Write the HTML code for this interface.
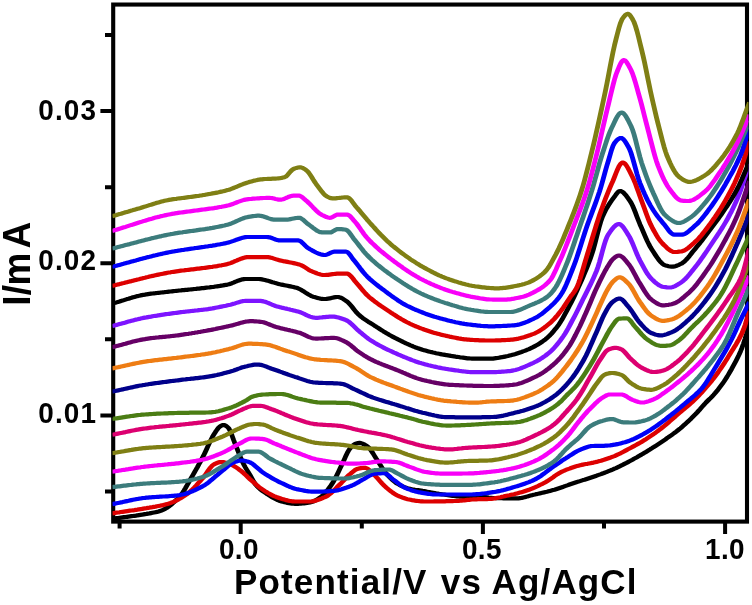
<!DOCTYPE html>
<html><head><meta charset="utf-8"><title>CV plot</title>
<style>html,body{margin:0;padding:0;background:#fff;}svg{display:block}</style></head>
<body>
<svg width="752" height="605" viewBox="0 0 752 605">
<rect width="752" height="605" fill="#fff"/>
<defs><clipPath id="cp"><rect x="112.5" y="4.55" width="636" height="517.0500000000001"/></clipPath></defs>
<rect x="113.2" y="4.55" width="633.8" height="517.0500000000001" fill="none" stroke="#000" stroke-width="4.1"/>
<g clip-path="url(#cp)"><g transform="scale(1.15 1)" fill="none" stroke-width="4.2" stroke-linejoin="round" stroke-linecap="butt">
<path d="M97.39 518.8 L98.70 518.6 L100.00 518.4 L101.30 518.2 L102.61 518.0 L103.91 517.8 L105.22 517.6 L106.52 517.4 L107.83 517.2 L109.13 517.0 L110.43 516.8 L111.74 516.6 L113.04 516.4 L114.35 516.2 L115.65 516.0 L116.96 515.8 L118.26 515.6 L119.57 515.3 L120.87 515.1 L122.17 514.9 L123.48 514.7 L124.78 514.4 L126.09 514.1 L127.39 513.9 L128.70 513.6 L130.00 513.4 L131.30 513.1 L132.61 512.8 L133.91 512.5 L135.22 512.2 L136.52 511.9 L137.83 511.5 L139.13 511.0 L140.43 510.5 L141.74 509.9 L143.04 509.2 L144.35 508.3 L145.65 507.4 L146.96 506.3 L148.26 505.2 L149.57 503.9 L150.87 502.6 L152.17 501.2 L153.48 499.8 L154.78 498.3 L156.09 496.7 L157.39 494.9 L158.70 492.8 L160.00 490.5 L161.30 488.0 L162.61 485.3 L163.91 482.7 L165.22 480.0 L166.52 477.5 L167.83 474.9 L169.13 472.3 L170.43 469.6 L171.74 467.0 L173.04 464.2 L174.35 461.5 L175.65 458.6 L176.96 455.7 L178.26 452.6 L179.57 449.4 L180.87 446.1 L182.17 442.8 L183.48 439.7 L184.78 436.8 L186.09 434.3 L187.39 431.9 L188.70 429.7 L190.00 427.8 L191.30 426.5 L192.61 425.6 L193.91 425.0 L195.22 425.2 L196.52 425.9 L197.83 427.0 L199.13 428.6 L200.43 431.6 L201.74 435.5 L203.04 439.7 L204.35 443.6 L205.65 447.3 L206.96 451.1 L208.26 454.9 L209.57 458.6 L210.87 462.0 L212.17 464.9 L213.48 467.6 L214.78 470.1 L216.09 472.5 L217.39 475.0 L218.70 477.7 L220.00 480.4 L221.30 483.0 L222.61 485.0 L223.91 486.6 L225.22 488.1 L226.52 489.4 L227.83 490.6 L229.13 491.7 L230.43 492.7 L231.74 493.7 L233.04 494.6 L234.35 495.6 L235.65 496.5 L236.96 497.4 L238.26 498.2 L239.57 499.0 L240.87 499.8 L242.17 500.4 L243.48 501.0 L244.78 501.4 L246.09 501.8 L247.39 502.2 L248.70 502.5 L250.00 502.9 L251.30 503.2 L252.61 503.4 L253.91 503.6 L255.22 503.7 L256.52 503.8 L257.83 503.8 L259.13 503.8 L260.43 503.7 L261.74 503.6 L263.04 503.5 L264.35 503.3 L265.65 503.1 L266.96 502.9 L268.26 502.7 L269.57 502.5 L270.87 502.1 L272.17 501.6 L273.48 500.9 L274.78 500.1 L276.09 499.2 L277.39 498.2 L278.70 497.2 L280.00 496.0 L281.30 494.7 L282.61 493.2 L283.91 491.4 L285.22 489.5 L286.52 487.5 L287.83 485.4 L289.13 483.1 L290.43 480.7 L291.74 477.9 L293.04 474.9 L294.35 471.7 L295.65 468.5 L296.96 465.4 L298.26 462.3 L299.57 459.0 L300.87 455.6 L302.17 452.5 L303.48 449.9 L304.78 447.9 L306.09 446.3 L307.39 444.9 L308.70 444.0 L310.00 443.5 L311.30 443.1 L312.61 442.9 L313.91 443.1 L315.22 443.6 L316.52 444.3 L317.83 445.2 L319.13 446.2 L320.43 447.3 L321.74 449.0 L323.04 451.1 L324.35 453.4 L325.65 455.9 L326.96 458.3 L328.26 460.5 L329.57 462.9 L330.87 465.3 L332.17 467.7 L333.48 470.0 L334.78 472.1 L336.09 473.9 L337.39 475.6 L338.70 477.1 L340.00 478.6 L341.30 480.0 L342.61 481.3 L343.91 482.5 L345.22 483.5 L346.52 484.3 L347.83 485.1 L349.13 485.9 L350.43 486.5 L351.74 487.2 L353.04 487.7 L354.35 488.2 L355.65 488.6 L356.96 488.9 L358.26 489.3 L359.57 489.5 L360.87 489.8 L362.17 490.0 L363.48 490.2 L364.78 490.4 L366.09 490.6 L367.39 490.9 L368.70 491.1 L370.00 491.4 L371.30 491.7 L372.61 492.0 L373.91 492.2 L375.22 492.5 L376.52 492.8 L377.83 493.1 L379.13 493.4 L380.43 493.6 L381.74 493.9 L383.04 494.1 L384.35 494.3 L385.65 494.5 L386.96 494.7 L388.26 495.0 L389.57 495.2 L390.87 495.4 L392.17 495.6 L393.48 495.8 L394.78 496.0 L396.09 496.2 L397.39 496.4 L398.70 496.5 L400.00 496.6 L401.30 496.7 L402.61 496.8 L403.91 496.8 L405.22 496.8 L406.52 496.8 L407.83 496.8 L409.13 496.7 L410.43 496.7 L411.74 496.7 L413.04 496.7 L414.35 496.6 L415.65 496.6 L416.96 496.6 L418.26 496.6 L419.57 496.7 L420.87 496.9 L422.17 497.1 L423.48 497.3 L424.78 497.6 L426.09 497.8 L427.39 497.9 L428.70 498.0 L430.00 498.0 L431.30 498.1 L432.61 498.1 L433.91 498.2 L435.22 498.2 L436.52 498.2 L437.83 498.3 L439.13 498.3 L440.43 498.3 L441.74 498.3 L443.04 498.4 L444.35 498.4 L445.65 498.4 L446.96 498.4 L448.26 498.4 L449.57 498.4 L450.87 498.3 L452.17 498.1 L453.48 497.9 L454.78 497.6 L456.09 497.2 L457.39 496.9 L458.70 496.4 L460.00 496.0 L461.30 495.6 L462.61 495.2 L463.91 494.8 L465.22 494.5 L466.52 494.1 L467.83 493.8 L469.13 493.4 L470.43 493.1 L471.74 492.7 L473.04 492.4 L474.35 492.0 L475.65 491.7 L476.96 491.3 L478.26 490.9 L479.57 490.5 L480.87 490.1 L482.17 489.7 L483.48 489.2 L484.78 488.7 L486.09 488.2 L487.39 487.7 L488.70 487.2 L490.00 486.7 L491.30 486.1 L492.61 485.6 L493.91 485.1 L495.22 484.5 L496.52 484.0 L497.83 483.5 L499.13 483.0 L500.43 482.5 L501.74 482.0 L503.04 481.6 L504.35 481.1 L505.65 480.6 L506.96 480.1 L508.26 479.7 L509.57 479.2 L510.87 478.7 L512.17 478.2 L513.48 477.7 L514.78 477.2 L516.09 476.7 L517.39 476.2 L518.70 475.7 L520.00 475.1 L521.30 474.6 L522.61 474.1 L523.91 473.5 L525.22 473.0 L526.52 472.4 L527.83 471.8 L529.13 471.2 L530.43 470.6 L531.74 470.0 L533.04 469.4 L534.35 468.7 L535.65 468.1 L536.96 467.4 L538.26 466.7 L539.57 465.9 L540.87 465.2 L542.17 464.4 L543.48 463.6 L544.78 462.9 L546.09 462.1 L547.39 461.3 L548.70 460.5 L550.00 459.7 L551.30 458.8 L552.61 458.0 L553.91 457.2 L555.22 456.3 L556.52 455.4 L557.83 454.6 L559.13 453.7 L560.43 452.8 L561.74 451.9 L563.04 451.0 L564.35 450.1 L565.65 449.1 L566.96 448.2 L568.26 447.2 L569.57 446.3 L570.87 445.3 L572.17 444.3 L573.48 443.3 L574.78 442.3 L576.09 441.3 L577.39 440.3 L578.70 439.3 L580.00 438.2 L581.30 437.2 L582.61 436.1 L583.91 435.1 L585.22 434.0 L586.52 432.9 L587.83 431.8 L589.13 430.6 L590.43 429.4 L591.74 428.2 L593.04 426.9 L594.35 425.6 L595.65 424.3 L596.96 422.9 L598.26 421.5 L599.57 420.1 L600.87 418.7 L602.17 417.2 L603.48 415.7 L604.78 414.2 L606.09 412.6 L607.39 410.9 L608.70 409.3 L610.00 407.5 L611.30 405.8 L612.61 404.2 L613.91 402.5 L615.22 401.0 L616.52 399.5 L617.83 398.1 L619.13 396.6 L620.43 395.0 L621.74 393.3 L623.04 391.5 L624.35 389.7 L625.65 387.7 L626.96 385.7 L628.26 383.7 L629.57 381.5 L630.87 379.2 L632.17 376.9 L633.48 374.4 L634.78 371.8 L636.09 369.2 L637.39 366.4 L638.70 363.6 L640.00 360.8 L641.30 357.9 L642.61 354.8 L643.91 351.4 L645.22 347.7 L646.52 343.6 L647.83 339.0 L649.13 334.0 L650.43 328.0 L651.74 322.0" stroke="#000000"/>
<path d="M97.39 513.4 L98.70 513.2 L100.00 512.9 L101.30 512.7 L102.61 512.5 L103.91 512.3 L105.22 512.0 L106.52 511.8 L107.83 511.6 L109.13 511.4 L110.43 511.2 L111.74 510.9 L113.04 510.7 L114.35 510.5 L115.65 510.3 L116.96 510.1 L118.26 509.8 L119.57 509.6 L120.87 509.3 L122.17 509.1 L123.48 508.9 L124.78 508.6 L126.09 508.3 L127.39 508.1 L128.70 507.8 L130.00 507.6 L131.30 507.3 L132.61 507.1 L133.91 506.8 L135.22 506.6 L136.52 506.3 L137.83 506.0 L139.13 505.7 L140.43 505.4 L141.74 505.1 L143.04 504.7 L144.35 504.3 L145.65 503.9 L146.96 503.5 L148.26 503.0 L149.57 502.4 L150.87 501.8 L152.17 501.1 L153.48 500.4 L154.78 499.6 L156.09 498.8 L157.39 497.9 L158.70 497.0 L160.00 496.1 L161.30 495.1 L162.61 494.1 L163.91 492.9 L165.22 491.7 L166.52 490.3 L167.83 488.8 L169.13 487.3 L170.43 485.7 L171.74 484.0 L173.04 482.3 L174.35 480.6 L175.65 479.0 L176.96 477.2 L178.26 475.3 L179.57 473.1 L180.87 470.9 L182.17 468.8 L183.48 467.0 L184.78 465.4 L186.09 464.4 L187.39 463.6 L188.70 463.0 L190.00 462.4 L191.30 462.1 L192.61 462.0 L193.91 462.1 L195.22 462.4 L196.52 462.8 L197.83 463.2 L199.13 463.6 L200.43 464.2 L201.74 464.9 L203.04 465.8 L204.35 466.7 L205.65 467.7 L206.96 468.7 L208.26 469.8 L209.57 470.9 L210.87 472.1 L212.17 473.5 L213.48 474.9 L214.78 476.3 L216.09 477.8 L217.39 479.2 L218.70 480.5 L220.00 481.8 L221.30 483.1 L222.61 484.4 L223.91 485.7 L225.22 487.0 L226.52 488.2 L227.83 489.2 L229.13 490.2 L230.43 491.2 L231.74 492.1 L233.04 493.0 L234.35 493.8 L235.65 494.6 L236.96 495.4 L238.26 496.1 L239.57 496.7 L240.87 497.3 L242.17 497.8 L243.48 498.3 L244.78 498.8 L246.09 499.2 L247.39 499.6 L248.70 500.1 L250.00 500.4 L251.30 500.8 L252.61 501.0 L253.91 501.3 L255.22 501.4 L256.52 501.5 L257.83 501.5 L259.13 501.5 L260.43 501.5 L261.74 501.5 L263.04 501.5 L264.35 501.5 L265.65 501.5 L266.96 501.5 L268.26 501.5 L269.57 501.5 L270.87 501.4 L272.17 501.2 L273.48 500.9 L274.78 500.5 L276.09 500.0 L277.39 499.5 L278.70 499.0 L280.00 498.4 L281.30 497.7 L282.61 497.1 L283.91 496.4 L285.22 495.5 L286.52 494.3 L287.83 493.1 L289.13 491.7 L290.43 490.3 L291.74 488.8 L293.04 487.2 L294.35 485.7 L295.65 484.3 L296.96 482.8 L298.26 481.2 L299.57 479.6 L300.87 478.0 L302.17 476.5 L303.48 475.0 L304.78 473.8 L306.09 472.5 L307.39 471.3 L308.70 470.1 L310.00 469.2 L311.30 468.7 L312.61 468.4 L313.91 468.2 L315.22 468.0 L316.52 467.9 L317.83 467.9 L319.13 468.4 L320.43 469.4 L321.74 470.8 L323.04 472.3 L324.35 473.8 L325.65 475.2 L326.96 476.7 L328.26 478.3 L329.57 480.0 L330.87 481.7 L332.17 483.4 L333.48 485.0 L334.78 486.4 L336.09 487.8 L337.39 489.0 L338.70 490.2 L340.00 491.4 L341.30 492.5 L342.61 493.5 L343.91 494.4 L345.22 495.3 L346.52 496.0 L347.83 496.6 L349.13 497.2 L350.43 497.8 L351.74 498.3 L353.04 498.8 L354.35 499.2 L355.65 499.5 L356.96 499.8 L358.26 500.1 L359.57 500.3 L360.87 500.6 L362.17 500.8 L363.48 501.0 L364.78 501.2 L366.09 501.3 L367.39 501.4 L368.70 501.5 L370.00 501.5 L371.30 501.5 L372.61 501.5 L373.91 501.5 L375.22 501.5 L376.52 501.5 L377.83 501.4 L379.13 501.4 L380.43 501.4 L381.74 501.4 L383.04 501.4 L384.35 501.3 L385.65 501.3 L386.96 501.3 L388.26 501.2 L389.57 501.2 L390.87 501.2 L392.17 501.1 L393.48 501.1 L394.78 501.0 L396.09 501.0 L397.39 500.9 L398.70 500.9 L400.00 500.7 L401.30 500.6 L402.61 500.4 L403.91 500.3 L405.22 500.1 L406.52 499.9 L407.83 499.8 L409.13 499.6 L410.43 499.5 L411.74 499.4 L413.04 499.3 L414.35 499.3 L415.65 499.2 L416.96 499.2 L418.26 499.2 L419.57 499.1 L420.87 499.1 L422.17 499.1 L423.48 499.1 L424.78 499.0 L426.09 498.9 L427.39 498.8 L428.70 498.6 L430.00 498.4 L431.30 498.1 L432.61 497.8 L433.91 497.5 L435.22 497.2 L436.52 496.8 L437.83 496.5 L439.13 496.1 L440.43 495.8 L441.74 495.5 L443.04 495.2 L444.35 494.8 L445.65 494.5 L446.96 494.2 L448.26 493.8 L449.57 493.4 L450.87 493.0 L452.17 492.6 L453.48 492.2 L454.78 491.8 L456.09 491.3 L457.39 490.8 L458.70 490.3 L460.00 489.8 L461.30 489.2 L462.61 488.6 L463.91 488.0 L465.22 487.3 L466.52 486.7 L467.83 486.0 L469.13 485.2 L470.43 484.5 L471.74 483.8 L473.04 483.0 L474.35 482.2 L475.65 481.3 L476.96 480.3 L478.26 479.3 L479.57 478.3 L480.87 477.3 L482.17 476.2 L483.48 475.2 L484.78 474.2 L486.09 473.3 L487.39 472.4 L488.70 471.7 L490.00 471.0 L491.30 470.3 L492.61 469.7 L493.91 469.1 L495.22 468.6 L496.52 468.0 L497.83 467.5 L499.13 467.0 L500.43 466.5 L501.74 466.1 L503.04 465.7 L504.35 465.3 L505.65 464.9 L506.96 464.6 L508.26 464.3 L509.57 464.0 L510.87 463.8 L512.17 463.5 L513.48 463.2 L514.78 462.9 L516.09 462.6 L517.39 462.2 L518.70 461.9 L520.00 461.5 L521.30 461.1 L522.61 460.7 L523.91 460.2 L525.22 459.8 L526.52 459.3 L527.83 458.8 L529.13 458.3 L530.43 457.8 L531.74 457.2 L533.04 456.6 L534.35 456.1 L535.65 455.4 L536.96 454.7 L538.26 454.0 L539.57 453.3 L540.87 452.5 L542.17 451.7 L543.48 450.9 L544.78 450.1 L546.09 449.3 L547.39 448.5 L548.70 447.7 L550.00 446.9 L551.30 446.1 L552.61 445.3 L553.91 444.4 L555.22 443.6 L556.52 442.8 L557.83 441.9 L559.13 441.0 L560.43 440.1 L561.74 439.2 L563.04 438.2 L564.35 437.2 L565.65 436.2 L566.96 435.2 L568.26 434.1 L569.57 433.1 L570.87 432.0 L572.17 430.9 L573.48 429.7 L574.78 428.6 L576.09 427.4 L577.39 426.2 L578.70 425.0 L580.00 423.7 L581.30 422.4 L582.61 421.1 L583.91 419.8 L585.22 418.5 L586.52 417.2 L587.83 415.8 L589.13 414.5 L590.43 413.2 L591.74 412.0 L593.04 410.7 L594.35 409.5 L595.65 408.2 L596.96 407.0 L598.26 405.7 L599.57 404.4 L600.87 403.1 L602.17 401.7 L603.48 400.3 L604.78 398.9 L606.09 397.3 L607.39 395.8 L608.70 394.2 L610.00 392.6 L611.30 390.9 L612.61 389.2 L613.91 387.5 L615.22 385.8 L616.52 384.0 L617.83 382.2 L619.13 380.4 L620.43 378.5 L621.74 376.5 L623.04 374.5 L624.35 372.5 L625.65 370.3 L626.96 368.1 L628.26 365.9 L629.57 363.6 L630.87 361.3 L632.17 358.9 L633.48 356.4 L634.78 354.0 L636.09 351.6 L637.39 349.2 L638.70 346.8 L640.00 344.4 L641.30 341.8 L642.61 339.1 L643.91 336.2 L645.22 333.1 L646.52 329.6 L647.83 325.3 L649.13 320.4 L650.43 315.6 L651.74 310.9" stroke="#dd0000"/>
<path d="M97.39 504.2 L98.70 503.9 L100.00 503.6 L101.30 503.3 L102.61 503.0 L103.91 502.7 L105.22 502.4 L106.52 502.1 L107.83 501.7 L109.13 501.4 L110.43 501.1 L111.74 500.8 L113.04 500.4 L114.35 500.1 L115.65 499.8 L116.96 499.5 L118.26 499.2 L119.57 499.0 L120.87 498.7 L122.17 498.5 L123.48 498.2 L124.78 498.0 L126.09 497.9 L127.39 497.7 L128.70 497.6 L130.00 497.4 L131.30 497.3 L132.61 497.2 L133.91 497.1 L135.22 497.0 L136.52 496.9 L137.83 496.8 L139.13 496.7 L140.43 496.6 L141.74 496.5 L143.04 496.5 L144.35 496.4 L145.65 496.3 L146.96 496.2 L148.26 496.0 L149.57 495.9 L150.87 495.8 L152.17 495.6 L153.48 495.5 L154.78 495.3 L156.09 495.1 L157.39 494.8 L158.70 494.5 L160.00 494.2 L161.30 493.8 L162.61 493.3 L163.91 492.8 L165.22 492.2 L166.52 491.6 L167.83 491.0 L169.13 490.3 L170.43 489.6 L171.74 488.9 L173.04 488.2 L174.35 487.4 L175.65 486.6 L176.96 485.8 L178.26 484.9 L179.57 483.9 L180.87 482.8 L182.17 481.6 L183.48 480.3 L184.78 479.1 L186.09 477.8 L187.39 476.4 L188.70 475.2 L190.00 473.9 L191.30 472.7 L192.61 471.5 L193.91 470.3 L195.22 469.1 L196.52 467.8 L197.83 466.5 L199.13 465.3 L200.43 464.1 L201.74 463.2 L203.04 462.4 L204.35 461.8 L205.65 461.4 L206.96 461.0 L208.26 460.7 L209.57 460.5 L210.87 460.5 L212.17 460.7 L213.48 461.0 L214.78 461.4 L216.09 461.8 L217.39 462.4 L218.70 463.2 L220.00 464.2 L221.30 465.4 L222.61 466.7 L223.91 468.0 L225.22 469.3 L226.52 470.6 L227.83 471.8 L229.13 472.8 L230.43 473.8 L231.74 474.8 L233.04 475.7 L234.35 476.6 L235.65 477.5 L236.96 478.4 L238.26 479.2 L239.57 480.0 L240.87 480.8 L242.17 481.6 L243.48 482.3 L244.78 483.0 L246.09 483.7 L247.39 484.4 L248.70 485.1 L250.00 485.8 L251.30 486.5 L252.61 487.1 L253.91 487.7 L255.22 488.2 L256.52 488.7 L257.83 489.1 L259.13 489.4 L260.43 489.7 L261.74 490.0 L263.04 490.3 L264.35 490.6 L265.65 490.9 L266.96 491.1 L268.26 491.3 L269.57 491.5 L270.87 491.6 L272.17 491.7 L273.48 491.7 L274.78 491.7 L276.09 491.7 L277.39 491.6 L278.70 491.6 L280.00 491.6 L281.30 491.5 L282.61 491.4 L283.91 491.4 L285.22 491.3 L286.52 491.2 L287.83 491.1 L289.13 491.0 L290.43 490.9 L291.74 490.7 L293.04 490.4 L294.35 490.1 L295.65 489.7 L296.96 489.3 L298.26 488.8 L299.57 488.3 L300.87 487.8 L302.17 487.2 L303.48 486.7 L304.78 486.1 L306.09 485.5 L307.39 484.8 L308.70 484.1 L310.00 483.2 L311.30 482.4 L312.61 481.5 L313.91 480.6 L315.22 479.8 L316.52 479.0 L317.83 478.1 L319.13 477.1 L320.43 476.2 L321.74 475.3 L323.04 474.6 L324.35 474.0 L325.65 473.7 L326.96 473.6 L328.26 473.5 L329.57 473.4 L330.87 473.3 L332.17 473.2 L333.48 473.2 L334.78 473.3 L336.09 474.0 L337.39 475.1 L338.70 476.3 L340.00 477.7 L341.30 479.0 L342.61 480.1 L343.91 481.2 L345.22 482.3 L346.52 483.5 L347.83 484.6 L349.13 485.7 L350.43 486.7 L351.74 487.5 L353.04 488.1 L354.35 488.8 L355.65 489.4 L356.96 489.9 L358.26 490.5 L359.57 490.9 L360.87 491.4 L362.17 491.7 L363.48 492.1 L364.78 492.3 L366.09 492.6 L367.39 492.9 L368.70 493.2 L370.00 493.4 L371.30 493.6 L372.61 493.9 L373.91 494.0 L375.22 494.2 L376.52 494.3 L377.83 494.4 L379.13 494.5 L380.43 494.5 L381.74 494.5 L383.04 494.5 L384.35 494.5 L385.65 494.5 L386.96 494.5 L388.26 494.5 L389.57 494.5 L390.87 494.5 L392.17 494.5 L393.48 494.5 L394.78 494.5 L396.09 494.5 L397.39 494.5 L398.70 494.5 L400.00 494.5 L401.30 494.5 L402.61 494.5 L403.91 494.5 L405.22 494.5 L406.52 494.5 L407.83 494.5 L409.13 494.5 L410.43 494.5 L411.74 494.4 L413.04 494.3 L414.35 494.2 L415.65 494.1 L416.96 494.0 L418.26 493.8 L419.57 493.6 L420.87 493.5 L422.17 493.3 L423.48 493.1 L424.78 492.8 L426.09 492.6 L427.39 492.4 L428.70 492.2 L430.00 492.0 L431.30 491.7 L432.61 491.4 L433.91 491.1 L435.22 490.8 L436.52 490.4 L437.83 490.1 L439.13 489.7 L440.43 489.3 L441.74 488.8 L443.04 488.4 L444.35 488.0 L445.65 487.5 L446.96 487.1 L448.26 486.6 L449.57 486.2 L450.87 485.7 L452.17 485.3 L453.48 484.8 L454.78 484.3 L456.09 483.8 L457.39 483.2 L458.70 482.6 L460.00 482.1 L461.30 481.4 L462.61 480.8 L463.91 480.1 L465.22 479.4 L466.52 478.6 L467.83 477.7 L469.13 476.8 L470.43 475.8 L471.74 474.7 L473.04 473.6 L474.35 472.5 L475.65 471.3 L476.96 470.2 L478.26 469.1 L479.57 468.0 L480.87 466.9 L482.17 465.9 L483.48 464.8 L484.78 463.8 L486.09 462.8 L487.39 461.8 L488.70 460.7 L490.00 459.7 L491.30 458.8 L492.61 457.8 L493.91 456.9 L495.22 455.9 L496.52 454.9 L497.83 454.0 L499.13 453.0 L500.43 452.1 L501.74 451.3 L503.04 450.5 L504.35 449.8 L505.65 449.2 L506.96 448.6 L508.26 448.0 L509.57 447.5 L510.87 447.0 L512.17 446.6 L513.48 446.2 L514.78 446.0 L516.09 446.0 L517.39 445.9 L518.70 445.9 L520.00 445.9 L521.30 445.8 L522.61 445.8 L523.91 445.8 L525.22 445.8 L526.52 445.7 L527.83 445.6 L529.13 445.5 L530.43 445.4 L531.74 445.2 L533.04 444.9 L534.35 444.7 L535.65 444.4 L536.96 444.1 L538.26 443.8 L539.57 443.4 L540.87 443.0 L542.17 442.6 L543.48 442.2 L544.78 441.7 L546.09 441.2 L547.39 440.7 L548.70 440.1 L550.00 439.5 L551.30 438.9 L552.61 438.2 L553.91 437.4 L555.22 436.7 L556.52 435.9 L557.83 435.1 L559.13 434.3 L560.43 433.4 L561.74 432.6 L563.04 431.7 L564.35 430.8 L565.65 429.9 L566.96 428.9 L568.26 427.9 L569.57 426.9 L570.87 425.9 L572.17 424.8 L573.48 423.7 L574.78 422.7 L576.09 421.5 L577.39 420.4 L578.70 419.3 L580.00 418.1 L581.30 416.9 L582.61 415.7 L583.91 414.6 L585.22 413.4 L586.52 412.2 L587.83 411.0 L589.13 409.7 L590.43 408.5 L591.74 407.3 L593.04 406.0 L594.35 404.7 L595.65 403.5 L596.96 402.2 L598.26 400.9 L599.57 399.7 L600.87 398.5 L602.17 397.2 L603.48 396.0 L604.78 394.7 L606.09 393.3 L607.39 391.9 L608.70 390.3 L610.00 388.7 L611.30 386.9 L612.61 384.9 L613.91 382.8 L615.22 380.5 L616.52 378.1 L617.83 375.6 L619.13 373.1 L620.43 370.6 L621.74 368.1 L623.04 365.7 L624.35 363.2 L625.65 360.8 L626.96 358.3 L628.26 355.8 L629.57 353.3 L630.87 350.7 L632.17 348.0 L633.48 345.2 L634.78 342.4 L636.09 339.5 L637.39 336.4 L638.70 333.2 L640.00 329.9 L641.30 326.6 L642.61 323.4 L643.91 320.1 L645.22 317.0 L646.52 314.0 L647.83 311.0 L649.13 308.0 L650.43 305.0 L651.74 302.0" stroke="#0000f8"/>
<path d="M97.39 487.1 L98.70 486.9 L100.00 486.8 L101.30 486.6 L102.61 486.4 L103.91 486.3 L105.22 486.1 L106.52 485.9 L107.83 485.7 L109.13 485.6 L110.43 485.4 L111.74 485.2 L113.04 485.0 L114.35 484.9 L115.65 484.7 L116.96 484.5 L118.26 484.4 L119.57 484.2 L120.87 484.1 L122.17 483.9 L123.48 483.8 L124.78 483.7 L126.09 483.6 L127.39 483.5 L128.70 483.4 L130.00 483.3 L131.30 483.2 L132.61 483.1 L133.91 483.1 L135.22 483.0 L136.52 482.9 L137.83 482.9 L139.13 482.8 L140.43 482.7 L141.74 482.7 L143.04 482.6 L144.35 482.6 L145.65 482.5 L146.96 482.4 L148.26 482.3 L149.57 482.2 L150.87 482.1 L152.17 482.0 L153.48 481.9 L154.78 481.8 L156.09 481.7 L157.39 481.5 L158.70 481.4 L160.00 481.2 L161.30 481.0 L162.61 480.7 L163.91 480.5 L165.22 480.2 L166.52 479.9 L167.83 479.5 L169.13 479.2 L170.43 478.8 L171.74 478.5 L173.04 478.1 L174.35 477.6 L175.65 477.2 L176.96 476.7 L178.26 476.2 L179.57 475.6 L180.87 474.8 L182.17 474.1 L183.48 473.3 L184.78 472.4 L186.09 471.5 L187.39 470.6 L188.70 469.6 L190.00 468.7 L191.30 467.8 L192.61 466.9 L193.91 466.0 L195.22 465.0 L196.52 464.0 L197.83 463.0 L199.13 461.9 L200.43 460.9 L201.74 459.8 L203.04 458.8 L204.35 457.8 L205.65 456.8 L206.96 455.9 L208.26 455.1 L209.57 454.2 L210.87 453.2 L212.17 452.4 L213.48 451.8 L214.78 451.7 L216.09 451.7 L217.39 451.7 L218.70 451.7 L220.00 451.7 L221.30 451.7 L222.61 451.7 L223.91 451.7 L225.22 451.7 L226.52 452.1 L227.83 452.8 L229.13 453.8 L230.43 454.9 L231.74 456.1 L233.04 457.3 L234.35 458.3 L235.65 459.1 L236.96 459.9 L238.26 460.7 L239.57 461.5 L240.87 462.2 L242.17 463.0 L243.48 463.7 L244.78 464.4 L246.09 465.2 L247.39 465.9 L248.70 466.6 L250.00 467.3 L251.30 468.0 L252.61 468.7 L253.91 469.5 L255.22 470.2 L256.52 471.0 L257.83 471.7 L259.13 472.3 L260.43 473.0 L261.74 473.6 L263.04 474.1 L264.35 474.6 L265.65 475.0 L266.96 475.4 L268.26 475.8 L269.57 476.1 L270.87 476.5 L272.17 476.8 L273.48 477.1 L274.78 477.4 L276.09 477.6 L277.39 477.8 L278.70 477.9 L280.00 477.9 L281.30 478.0 L282.61 478.1 L283.91 478.1 L285.22 478.2 L286.52 478.2 L287.83 478.3 L289.13 478.3 L290.43 478.4 L291.74 478.4 L293.04 478.4 L294.35 478.5 L295.65 478.5 L296.96 478.5 L298.26 478.5 L299.57 478.5 L300.87 478.4 L302.17 478.3 L303.48 478.1 L304.78 477.8 L306.09 477.5 L307.39 477.2 L308.70 476.8 L310.00 476.5 L311.30 476.1 L312.61 475.7 L313.91 475.2 L315.22 474.7 L316.52 474.0 L317.83 473.3 L319.13 472.6 L320.43 472.0 L321.74 471.4 L323.04 470.9 L324.35 470.5 L325.65 470.2 L326.96 470.1 L328.26 470.0 L329.57 469.9 L330.87 469.8 L332.17 469.7 L333.48 469.6 L334.78 469.6 L336.09 469.5 L337.39 469.5 L338.70 469.6 L340.00 470.0 L341.30 470.6 L342.61 471.5 L343.91 472.4 L345.22 473.2 L346.52 474.0 L347.83 474.8 L349.13 475.6 L350.43 476.4 L351.74 477.2 L353.04 478.0 L354.35 478.7 L355.65 479.3 L356.96 479.9 L358.26 480.5 L359.57 481.0 L360.87 481.6 L362.17 482.1 L363.48 482.5 L364.78 482.9 L366.09 483.3 L367.39 483.5 L368.70 483.7 L370.00 483.8 L371.30 484.0 L372.61 484.1 L373.91 484.2 L375.22 484.3 L376.52 484.4 L377.83 484.5 L379.13 484.6 L380.43 484.7 L381.74 484.7 L383.04 484.8 L384.35 484.8 L385.65 484.8 L386.96 484.8 L388.26 484.8 L389.57 484.8 L390.87 484.8 L392.17 484.8 L393.48 484.8 L394.78 484.8 L396.09 484.8 L397.39 484.8 L398.70 484.8 L400.00 484.8 L401.30 484.8 L402.61 484.8 L403.91 484.8 L405.22 484.8 L406.52 484.8 L407.83 484.8 L409.13 484.8 L410.43 484.8 L411.74 484.7 L413.04 484.6 L414.35 484.5 L415.65 484.4 L416.96 484.3 L418.26 484.1 L419.57 483.9 L420.87 483.7 L422.17 483.5 L423.48 483.3 L424.78 483.1 L426.09 482.9 L427.39 482.7 L428.70 482.5 L430.00 482.3 L431.30 482.0 L432.61 481.8 L433.91 481.5 L435.22 481.2 L436.52 480.8 L437.83 480.5 L439.13 480.1 L440.43 479.8 L441.74 479.4 L443.04 479.0 L444.35 478.6 L445.65 478.2 L446.96 477.8 L448.26 477.4 L449.57 477.0 L450.87 476.6 L452.17 476.2 L453.48 475.8 L454.78 475.3 L456.09 474.9 L457.39 474.4 L458.70 474.0 L460.00 473.5 L461.30 473.0 L462.61 472.4 L463.91 471.9 L465.22 471.3 L466.52 470.7 L467.83 470.1 L469.13 469.5 L470.43 468.8 L471.74 468.1 L473.04 467.4 L474.35 466.7 L475.65 465.9 L476.96 465.0 L478.26 464.1 L479.57 463.2 L480.87 462.2 L482.17 461.1 L483.48 459.8 L484.78 458.4 L486.09 456.8 L487.39 455.1 L488.70 453.5 L490.00 451.8 L491.30 450.2 L492.61 448.7 L493.91 447.3 L495.22 445.9 L496.52 444.6 L497.83 443.3 L499.13 442.1 L500.43 440.8 L501.74 439.5 L503.04 438.1 L504.35 436.6 L505.65 435.0 L506.96 433.3 L508.26 431.6 L509.57 429.9 L510.87 428.4 L512.17 427.1 L513.48 426.1 L514.78 425.2 L516.09 424.4 L517.39 423.6 L518.70 423.0 L520.00 422.3 L521.30 421.8 L522.61 421.3 L523.91 420.9 L525.22 420.4 L526.52 420.0 L527.83 419.6 L529.13 419.3 L530.43 419.1 L531.74 419.0 L533.04 419.1 L534.35 419.5 L535.65 420.1 L536.96 420.7 L538.26 421.3 L539.57 421.8 L540.87 422.2 L542.17 422.3 L543.48 422.4 L544.78 422.4 L546.09 422.4 L547.39 422.5 L548.70 422.5 L550.00 422.5 L551.30 422.5 L552.61 422.4 L553.91 422.2 L555.22 421.9 L556.52 421.6 L557.83 421.3 L559.13 420.9 L560.43 420.6 L561.74 420.1 L563.04 419.6 L564.35 419.0 L565.65 418.3 L566.96 417.5 L568.26 416.7 L569.57 415.9 L570.87 415.0 L572.17 414.1 L573.48 413.1 L574.78 412.1 L576.09 411.0 L577.39 409.9 L578.70 408.7 L580.00 407.6 L581.30 406.4 L582.61 405.3 L583.91 404.1 L585.22 402.9 L586.52 401.7 L587.83 400.4 L589.13 399.1 L590.43 397.8 L591.74 396.4 L593.04 395.0 L594.35 393.6 L595.65 392.1 L596.96 390.5 L598.26 388.9 L599.57 387.2 L600.87 385.6 L602.17 383.9 L603.48 382.2 L604.78 380.5 L606.09 378.8 L607.39 377.2 L608.70 375.5 L610.00 373.8 L611.30 372.1 L612.61 370.3 L613.91 368.6 L615.22 366.8 L616.52 364.9 L617.83 363.0 L619.13 361.1 L620.43 359.2 L621.74 357.2 L623.04 355.2 L624.35 353.2 L625.65 351.1 L626.96 348.9 L628.26 346.6 L629.57 344.1 L630.87 341.5 L632.17 338.6 L633.48 335.4 L634.78 332.0 L636.09 328.4 L637.39 324.8 L638.70 321.1 L640.00 317.5 L641.30 314.0 L642.61 310.6 L643.91 307.2 L645.22 303.8 L646.52 300.4 L647.83 297.0 L649.13 293.5 L650.43 290.1 L651.74 286.7" stroke="#3c7c7c"/>
<path d="M97.39 471.7 L98.70 471.5 L100.00 471.2 L101.30 471.0 L102.61 470.8 L103.91 470.5 L105.22 470.3 L106.52 470.0 L107.83 469.8 L109.13 469.6 L110.43 469.3 L111.74 469.1 L113.04 468.8 L114.35 468.6 L115.65 468.4 L116.96 468.1 L118.26 467.9 L119.57 467.7 L120.87 467.5 L122.17 467.3 L123.48 467.0 L124.78 466.9 L126.09 466.7 L127.39 466.5 L128.70 466.3 L130.00 466.1 L131.30 466.0 L132.61 465.8 L133.91 465.7 L135.22 465.5 L136.52 465.4 L137.83 465.2 L139.13 465.1 L140.43 465.0 L141.74 464.8 L143.04 464.7 L144.35 464.5 L145.65 464.4 L146.96 464.2 L148.26 464.1 L149.57 463.9 L150.87 463.8 L152.17 463.6 L153.48 463.4 L154.78 463.3 L156.09 463.1 L157.39 462.9 L158.70 462.7 L160.00 462.5 L161.30 462.3 L162.61 462.2 L163.91 462.0 L165.22 461.8 L166.52 461.5 L167.83 461.3 L169.13 461.1 L170.43 460.9 L171.74 460.6 L173.04 460.3 L174.35 460.1 L175.65 459.8 L176.96 459.4 L178.26 459.1 L179.57 458.7 L180.87 458.2 L182.17 457.8 L183.48 457.3 L184.78 456.7 L186.09 456.2 L187.39 455.6 L188.70 455.0 L190.00 454.4 L191.30 453.8 L192.61 453.2 L193.91 452.5 L195.22 451.8 L196.52 451.0 L197.83 450.2 L199.13 449.4 L200.43 448.5 L201.74 447.7 L203.04 446.8 L204.35 446.0 L205.65 445.2 L206.96 444.4 L208.26 443.7 L209.57 442.9 L210.87 442.1 L212.17 441.2 L213.48 440.4 L214.78 439.7 L216.09 439.1 L217.39 438.7 L218.70 438.5 L220.00 438.5 L221.30 438.5 L222.61 438.6 L223.91 438.6 L225.22 438.7 L226.52 438.8 L227.83 438.9 L229.13 439.1 L230.43 439.4 L231.74 439.8 L233.04 440.4 L234.35 441.1 L235.65 441.9 L236.96 442.6 L238.26 443.3 L239.57 443.9 L240.87 444.5 L242.17 445.1 L243.48 445.7 L244.78 446.4 L246.09 447.0 L247.39 447.6 L248.70 448.2 L250.00 448.8 L251.30 449.4 L252.61 450.0 L253.91 450.6 L255.22 451.2 L256.52 451.8 L257.83 452.4 L259.13 452.9 L260.43 453.5 L261.74 454.1 L263.04 454.7 L264.35 455.2 L265.65 455.8 L266.96 456.4 L268.26 456.9 L269.57 457.5 L270.87 458.0 L272.17 458.4 L273.48 458.8 L274.78 459.2 L276.09 459.5 L277.39 459.9 L278.70 460.1 L280.00 460.4 L281.30 460.7 L282.61 460.9 L283.91 461.2 L285.22 461.4 L286.52 461.6 L287.83 461.8 L289.13 462.0 L290.43 462.2 L291.74 462.4 L293.04 462.5 L294.35 462.7 L295.65 462.9 L296.96 463.1 L298.26 463.3 L299.57 463.4 L300.87 463.5 L302.17 463.6 L303.48 463.7 L304.78 463.7 L306.09 463.7 L307.39 463.7 L308.70 463.6 L310.00 463.6 L311.30 463.5 L312.61 463.5 L313.91 463.4 L315.22 463.3 L316.52 463.2 L317.83 463.1 L319.13 463.0 L320.43 462.8 L321.74 462.6 L323.04 462.4 L324.35 462.1 L325.65 461.9 L326.96 461.8 L328.26 461.6 L329.57 461.5 L330.87 461.4 L332.17 461.4 L333.48 461.4 L334.78 461.4 L336.09 461.5 L337.39 461.5 L338.70 461.6 L340.00 461.7 L341.30 461.8 L342.61 461.9 L343.91 462.0 L345.22 462.2 L346.52 462.5 L347.83 463.0 L349.13 463.5 L350.43 464.1 L351.74 464.8 L353.04 465.4 L354.35 466.0 L355.65 466.6 L356.96 467.1 L358.26 467.6 L359.57 468.2 L360.87 468.8 L362.17 469.4 L363.48 469.9 L364.78 470.4 L366.09 470.9 L367.39 471.4 L368.70 471.7 L370.00 472.0 L371.30 472.2 L372.61 472.4 L373.91 472.6 L375.22 472.8 L376.52 473.0 L377.83 473.2 L379.13 473.3 L380.43 473.4 L381.74 473.5 L383.04 473.6 L384.35 473.7 L385.65 473.7 L386.96 473.7 L388.26 473.7 L389.57 473.7 L390.87 473.7 L392.17 473.7 L393.48 473.7 L394.78 473.7 L396.09 473.6 L397.39 473.6 L398.70 473.6 L400.00 473.6 L401.30 473.6 L402.61 473.5 L403.91 473.5 L405.22 473.5 L406.52 473.5 L407.83 473.4 L409.13 473.4 L410.43 473.3 L411.74 473.3 L413.04 473.2 L414.35 473.1 L415.65 473.0 L416.96 472.9 L418.26 472.7 L419.57 472.6 L420.87 472.4 L422.17 472.3 L423.48 472.1 L424.78 472.0 L426.09 471.8 L427.39 471.7 L428.70 471.5 L430.00 471.3 L431.30 471.2 L432.61 471.0 L433.91 470.8 L435.22 470.5 L436.52 470.3 L437.83 470.1 L439.13 469.8 L440.43 469.6 L441.74 469.3 L443.04 469.0 L444.35 468.7 L445.65 468.4 L446.96 468.1 L448.26 467.7 L449.57 467.4 L450.87 466.9 L452.17 466.5 L453.48 466.0 L454.78 465.6 L456.09 465.1 L457.39 464.5 L458.70 464.0 L460.00 463.4 L461.30 462.8 L462.61 462.2 L463.91 461.6 L465.22 460.9 L466.52 460.2 L467.83 459.5 L469.13 458.7 L470.43 457.8 L471.74 456.9 L473.04 456.0 L474.35 455.0 L475.65 454.0 L476.96 452.9 L478.26 451.8 L479.57 450.7 L480.87 449.6 L482.17 448.5 L483.48 447.3 L484.78 446.0 L486.09 444.7 L487.39 443.3 L488.70 441.8 L490.00 440.4 L491.30 438.8 L492.61 437.2 L493.91 435.6 L495.22 433.8 L496.52 431.9 L497.83 429.9 L499.13 427.8 L500.43 425.8 L501.74 423.9 L503.04 422.0 L504.35 420.2 L505.65 418.3 L506.96 416.6 L508.26 414.8 L509.57 413.1 L510.87 411.4 L512.17 409.8 L513.48 408.3 L514.78 406.8 L516.09 405.3 L517.39 403.8 L518.70 402.4 L520.00 401.1 L521.30 399.8 L522.61 398.7 L523.91 397.7 L525.22 396.8 L526.52 395.9 L527.83 395.1 L529.13 394.6 L530.43 394.5 L531.74 394.5 L533.04 394.5 L534.35 394.5 L535.65 394.5 L536.96 394.5 L538.26 394.5 L539.57 394.5 L540.87 394.5 L542.17 394.9 L543.48 395.6 L544.78 396.4 L546.09 397.4 L547.39 398.3 L548.70 399.2 L550.00 399.9 L551.30 400.4 L552.61 401.0 L553.91 401.5 L555.22 402.0 L556.52 402.3 L557.83 402.5 L559.13 402.5 L560.43 402.3 L561.74 402.0 L563.04 401.6 L564.35 401.1 L565.65 400.5 L566.96 400.0 L568.26 399.4 L569.57 398.7 L570.87 398.0 L572.17 397.1 L573.48 396.1 L574.78 395.0 L576.09 393.9 L577.39 392.8 L578.70 391.8 L580.00 390.7 L581.30 389.6 L582.61 388.5 L583.91 387.4 L585.22 386.2 L586.52 385.0 L587.83 383.8 L589.13 382.6 L590.43 381.4 L591.74 380.2 L593.04 379.0 L594.35 377.7 L595.65 376.4 L596.96 375.2 L598.26 373.9 L599.57 372.5 L600.87 371.2 L602.17 369.8 L603.48 368.4 L604.78 366.9 L606.09 365.5 L607.39 364.0 L608.70 362.4 L610.00 360.8 L611.30 359.2 L612.61 357.5 L613.91 355.8 L615.22 354.0 L616.52 352.1 L617.83 350.2 L619.13 348.2 L620.43 346.1 L621.74 344.0 L623.04 341.7 L624.35 339.5 L625.65 337.1 L626.96 334.7 L628.26 332.1 L629.57 329.5 L630.87 326.7 L632.17 323.9 L633.48 321.0 L634.78 318.0 L636.09 315.0 L637.39 312.0 L638.70 308.9 L640.00 305.6 L641.30 302.3 L642.61 298.9 L643.91 295.6 L645.22 292.2 L646.52 288.9 L647.83 285.6 L649.13 282.4 L650.43 279.1 L651.74 275.8" stroke="#f800f8"/>
<path d="M97.39 453.2 L98.70 453.0 L100.00 452.7 L101.30 452.5 L102.61 452.2 L103.91 452.0 L105.22 451.7 L106.52 451.5 L107.83 451.2 L109.13 450.9 L110.43 450.7 L111.74 450.4 L113.04 450.1 L114.35 449.9 L115.65 449.6 L116.96 449.4 L118.26 449.2 L119.57 449.0 L120.87 448.7 L122.17 448.6 L123.48 448.4 L124.78 448.2 L126.09 448.1 L127.39 447.9 L128.70 447.8 L130.00 447.7 L131.30 447.6 L132.61 447.5 L133.91 447.4 L135.22 447.3 L136.52 447.2 L137.83 447.1 L139.13 447.1 L140.43 447.0 L141.74 446.9 L143.04 446.8 L144.35 446.7 L145.65 446.7 L146.96 446.6 L148.26 446.5 L149.57 446.4 L150.87 446.3 L152.17 446.2 L153.48 446.1 L154.78 446.0 L156.09 445.9 L157.39 445.8 L158.70 445.7 L160.00 445.5 L161.30 445.4 L162.61 445.3 L163.91 445.1 L165.22 445.0 L166.52 444.9 L167.83 444.7 L169.13 444.5 L170.43 444.4 L171.74 444.2 L173.04 444.0 L174.35 443.8 L175.65 443.5 L176.96 443.3 L178.26 442.9 L179.57 442.6 L180.87 442.1 L182.17 441.7 L183.48 441.1 L184.78 440.6 L186.09 440.0 L187.39 439.4 L188.70 438.8 L190.00 438.2 L191.30 437.6 L192.61 437.0 L193.91 436.4 L195.22 435.7 L196.52 435.0 L197.83 434.2 L199.13 433.5 L200.43 432.7 L201.74 431.9 L203.04 431.2 L204.35 430.4 L205.65 429.7 L206.96 429.0 L208.26 428.4 L209.57 427.7 L210.87 427.0 L212.17 426.4 L213.48 425.8 L214.78 425.2 L216.09 424.8 L217.39 424.5 L218.70 424.3 L220.00 424.2 L221.30 424.0 L222.61 424.0 L223.91 424.0 L225.22 424.1 L226.52 424.3 L227.83 424.5 L229.13 424.7 L230.43 425.1 L231.74 425.6 L233.04 426.3 L234.35 427.0 L235.65 427.8 L236.96 428.5 L238.26 429.2 L239.57 429.8 L240.87 430.4 L242.17 431.0 L243.48 431.5 L244.78 432.1 L246.09 432.7 L247.39 433.2 L248.70 433.8 L250.00 434.3 L251.30 434.8 L252.61 435.4 L253.91 435.9 L255.22 436.4 L256.52 436.9 L257.83 437.4 L259.13 437.8 L260.43 438.3 L261.74 438.8 L263.04 439.3 L264.35 439.8 L265.65 440.3 L266.96 440.7 L268.26 441.2 L269.57 441.6 L270.87 442.0 L272.17 442.3 L273.48 442.6 L274.78 442.8 L276.09 443.0 L277.39 443.2 L278.70 443.3 L280.00 443.5 L281.30 443.6 L282.61 443.7 L283.91 443.8 L285.22 443.9 L286.52 444.0 L287.83 444.1 L289.13 444.1 L290.43 444.2 L291.74 444.3 L293.04 444.4 L294.35 444.5 L295.65 444.6 L296.96 444.8 L298.26 444.9 L299.57 445.1 L300.87 445.3 L302.17 445.5 L303.48 445.8 L304.78 446.1 L306.09 446.4 L307.39 446.7 L308.70 447.0 L310.00 447.3 L311.30 447.6 L312.61 447.8 L313.91 448.0 L315.22 448.2 L316.52 448.3 L317.83 448.4 L319.13 448.4 L320.43 448.5 L321.74 448.6 L323.04 448.6 L324.35 448.7 L325.65 448.7 L326.96 448.7 L328.26 448.8 L329.57 448.8 L330.87 448.9 L332.17 448.9 L333.48 449.0 L334.78 449.0 L336.09 449.1 L337.39 449.2 L338.70 449.3 L340.00 449.4 L341.30 449.6 L342.61 449.9 L343.91 450.2 L345.22 450.7 L346.52 451.2 L347.83 451.7 L349.13 452.3 L350.43 452.9 L351.74 453.5 L353.04 454.0 L354.35 454.6 L355.65 455.1 L356.96 455.5 L358.26 456.0 L359.57 456.5 L360.87 457.0 L362.17 457.4 L363.48 457.9 L364.78 458.3 L366.09 458.7 L367.39 459.1 L368.70 459.5 L370.00 459.8 L371.30 460.1 L372.61 460.3 L373.91 460.6 L375.22 460.9 L376.52 461.2 L377.83 461.4 L379.13 461.7 L380.43 461.9 L381.74 462.1 L383.04 462.3 L384.35 462.4 L385.65 462.5 L386.96 462.6 L388.26 462.6 L389.57 462.6 L390.87 462.5 L392.17 462.4 L393.48 462.3 L394.78 462.2 L396.09 462.0 L397.39 461.9 L398.70 461.7 L400.00 461.6 L401.30 461.4 L402.61 461.3 L403.91 461.2 L405.22 461.1 L406.52 461.0 L407.83 460.9 L409.13 460.9 L410.43 460.9 L411.74 460.8 L413.04 460.8 L414.35 460.8 L415.65 460.8 L416.96 460.7 L418.26 460.7 L419.57 460.7 L420.87 460.6 L422.17 460.6 L423.48 460.6 L424.78 460.5 L426.09 460.4 L427.39 460.3 L428.70 460.1 L430.00 459.9 L431.30 459.7 L432.61 459.5 L433.91 459.2 L435.22 458.9 L436.52 458.6 L437.83 458.2 L439.13 457.9 L440.43 457.5 L441.74 457.2 L443.04 456.8 L444.35 456.5 L445.65 456.1 L446.96 455.7 L448.26 455.3 L449.57 454.9 L450.87 454.4 L452.17 453.9 L453.48 453.4 L454.78 452.9 L456.09 452.4 L457.39 451.8 L458.70 451.2 L460.00 450.6 L461.30 450.0 L462.61 449.4 L463.91 448.8 L465.22 448.1 L466.52 447.4 L467.83 446.7 L469.13 446.0 L470.43 445.3 L471.74 444.5 L473.04 443.7 L474.35 442.8 L475.65 441.9 L476.96 441.0 L478.26 440.0 L479.57 439.0 L480.87 438.0 L482.17 436.9 L483.48 435.7 L484.78 434.5 L486.09 433.1 L487.39 431.7 L488.70 430.2 L490.00 428.7 L491.30 427.2 L492.61 425.5 L493.91 423.9 L495.22 422.1 L496.52 420.2 L497.83 418.3 L499.13 416.3 L500.43 414.2 L501.74 412.2 L503.04 410.1 L504.35 408.0 L505.65 405.9 L506.96 403.8 L508.26 401.6 L509.57 399.4 L510.87 397.2 L512.17 395.0 L513.48 392.7 L514.78 390.4 L516.09 388.1 L517.39 385.9 L518.70 383.9 L520.00 381.9 L521.30 379.8 L522.61 377.8 L523.91 376.2 L525.22 375.0 L526.52 374.3 L527.83 373.8 L529.13 373.4 L530.43 373.2 L531.74 373.0 L533.04 373.0 L534.35 373.2 L535.65 373.4 L536.96 373.7 L538.26 374.1 L539.57 374.6 L540.87 375.1 L542.17 376.1 L543.48 377.5 L544.78 379.1 L546.09 380.7 L547.39 382.1 L548.70 383.2 L550.00 384.2 L551.30 385.1 L552.61 386.0 L553.91 386.9 L555.22 387.6 L556.52 388.2 L557.83 388.6 L559.13 388.9 L560.43 389.1 L561.74 389.4 L563.04 389.6 L564.35 389.7 L565.65 389.8 L566.96 389.8 L568.26 389.5 L569.57 389.1 L570.87 388.5 L572.17 387.8 L573.48 387.1 L574.78 386.3 L576.09 385.5 L577.39 384.7 L578.70 383.8 L580.00 382.8 L581.30 381.7 L582.61 380.5 L583.91 379.3 L585.22 378.1 L586.52 376.8 L587.83 375.5 L589.13 374.2 L590.43 372.8 L591.74 371.4 L593.04 370.0 L594.35 368.5 L595.65 366.9 L596.96 365.4 L598.26 363.8 L599.57 362.2 L600.87 360.6 L602.17 358.9 L603.48 357.3 L604.78 355.6 L606.09 353.8 L607.39 352.1 L608.70 350.3 L610.00 348.5 L611.30 346.7 L612.61 344.8 L613.91 342.9 L615.22 341.0 L616.52 339.1 L617.83 337.2 L619.13 335.2 L620.43 333.1 L621.74 331.1 L623.04 329.0 L624.35 326.9 L625.65 324.8 L626.96 322.6 L628.26 320.4 L629.57 318.2 L630.87 315.9 L632.17 313.5 L633.48 311.0 L634.78 308.4 L636.09 305.8 L637.39 303.0 L638.70 300.1 L640.00 296.9 L641.30 293.5 L642.61 289.8 L643.91 285.9 L645.22 281.8 L646.52 277.7 L647.83 273.5 L649.13 269.4 L650.43 265.3 L651.74 261.4" stroke="#7f7f14"/>
<path d="M97.39 434.8 L98.70 434.5 L100.00 434.2 L101.30 433.9 L102.61 433.6 L103.91 433.3 L105.22 433.0 L106.52 432.7 L107.83 432.4 L109.13 432.1 L110.43 431.7 L111.74 431.4 L113.04 431.1 L114.35 430.8 L115.65 430.5 L116.96 430.2 L118.26 429.9 L119.57 429.7 L120.87 429.4 L122.17 429.1 L123.48 428.9 L124.78 428.7 L126.09 428.5 L127.39 428.3 L128.70 428.1 L130.00 427.9 L131.30 427.7 L132.61 427.5 L133.91 427.4 L135.22 427.2 L136.52 427.0 L137.83 426.9 L139.13 426.7 L140.43 426.6 L141.74 426.4 L143.04 426.3 L144.35 426.2 L145.65 426.0 L146.96 425.9 L148.26 425.7 L149.57 425.6 L150.87 425.4 L152.17 425.3 L153.48 425.1 L154.78 425.0 L156.09 424.8 L157.39 424.6 L158.70 424.5 L160.00 424.3 L161.30 424.2 L162.61 424.0 L163.91 423.9 L165.22 423.7 L166.52 423.6 L167.83 423.4 L169.13 423.2 L170.43 423.1 L171.74 422.9 L173.04 422.7 L174.35 422.6 L175.65 422.4 L176.96 422.2 L178.26 422.0 L179.57 421.7 L180.87 421.5 L182.17 421.2 L183.48 421.0 L184.78 420.6 L186.09 420.3 L187.39 419.9 L188.70 419.5 L190.00 419.1 L191.30 418.6 L192.61 418.2 L193.91 417.7 L195.22 417.2 L196.52 416.6 L197.83 416.1 L199.13 415.6 L200.43 415.0 L201.74 414.4 L203.04 413.6 L204.35 412.9 L205.65 412.1 L206.96 411.4 L208.26 410.7 L209.57 410.1 L210.87 409.4 L212.17 408.7 L213.48 408.1 L214.78 407.4 L216.09 406.9 L217.39 406.4 L218.70 406.0 L220.00 405.8 L221.30 405.8 L222.61 405.8 L223.91 405.8 L225.22 405.8 L226.52 405.8 L227.83 406.0 L229.13 406.3 L230.43 406.7 L231.74 407.3 L233.04 407.8 L234.35 408.4 L235.65 409.0 L236.96 409.5 L238.26 410.0 L239.57 410.6 L240.87 411.2 L242.17 411.8 L243.48 412.4 L244.78 413.1 L246.09 413.7 L247.39 414.4 L248.70 415.0 L250.00 415.6 L251.30 416.2 L252.61 416.8 L253.91 417.4 L255.22 418.0 L256.52 418.5 L257.83 419.0 L259.13 419.5 L260.43 420.0 L261.74 420.5 L263.04 421.0 L264.35 421.5 L265.65 422.0 L266.96 422.4 L268.26 422.8 L269.57 423.2 L270.87 423.5 L272.17 423.8 L273.48 424.1 L274.78 424.2 L276.09 424.4 L277.39 424.5 L278.70 424.6 L280.00 424.7 L281.30 424.8 L282.61 424.9 L283.91 425.0 L285.22 425.1 L286.52 425.1 L287.83 425.2 L289.13 425.3 L290.43 425.4 L291.74 425.5 L293.04 425.6 L294.35 425.8 L295.65 425.9 L296.96 426.2 L298.26 426.4 L299.57 426.7 L300.87 427.0 L302.17 427.4 L303.48 427.7 L304.78 428.1 L306.09 428.5 L307.39 428.9 L308.70 429.3 L310.00 429.6 L311.30 430.0 L312.61 430.3 L313.91 430.6 L315.22 430.9 L316.52 431.2 L317.83 431.5 L319.13 431.8 L320.43 432.1 L321.74 432.3 L323.04 432.6 L324.35 432.8 L325.65 433.1 L326.96 433.4 L328.26 433.7 L329.57 434.0 L330.87 434.2 L332.17 434.6 L333.48 434.9 L334.78 435.2 L336.09 435.5 L337.39 435.9 L338.70 436.3 L340.00 436.7 L341.30 437.2 L342.61 437.6 L343.91 438.1 L345.22 438.6 L346.52 439.1 L347.83 439.5 L349.13 440.0 L350.43 440.5 L351.74 441.0 L353.04 441.4 L354.35 441.9 L355.65 442.3 L356.96 442.7 L358.26 443.1 L359.57 443.5 L360.87 444.0 L362.17 444.4 L363.48 444.8 L364.78 445.2 L366.09 445.5 L367.39 445.9 L368.70 446.2 L370.00 446.6 L371.30 446.8 L372.61 447.1 L373.91 447.3 L375.22 447.6 L376.52 447.8 L377.83 448.0 L379.13 448.3 L380.43 448.5 L381.74 448.7 L383.04 448.9 L384.35 449.0 L385.65 449.2 L386.96 449.3 L388.26 449.4 L389.57 449.4 L390.87 449.4 L392.17 449.4 L393.48 449.3 L394.78 449.2 L396.09 449.0 L397.39 448.9 L398.70 448.7 L400.00 448.5 L401.30 448.4 L402.61 448.2 L403.91 448.0 L405.22 447.9 L406.52 447.8 L407.83 447.7 L409.13 447.6 L410.43 447.5 L411.74 447.4 L413.04 447.4 L414.35 447.3 L415.65 447.2 L416.96 447.2 L418.26 447.1 L419.57 447.0 L420.87 447.0 L422.17 446.9 L423.48 446.8 L424.78 446.7 L426.09 446.6 L427.39 446.5 L428.70 446.4 L430.00 446.3 L431.30 446.1 L432.61 446.0 L433.91 445.8 L435.22 445.6 L436.52 445.4 L437.83 445.2 L439.13 445.0 L440.43 444.8 L441.74 444.5 L443.04 444.3 L444.35 444.0 L445.65 443.7 L446.96 443.4 L448.26 443.1 L449.57 442.7 L450.87 442.3 L452.17 441.9 L453.48 441.4 L454.78 440.8 L456.09 440.2 L457.39 439.6 L458.70 438.9 L460.00 438.2 L461.30 437.5 L462.61 436.8 L463.91 436.1 L465.22 435.4 L466.52 434.7 L467.83 434.0 L469.13 433.2 L470.43 432.5 L471.74 431.7 L473.04 430.9 L474.35 430.1 L475.65 429.2 L476.96 428.3 L478.26 427.3 L479.57 426.3 L480.87 425.2 L482.17 424.1 L483.48 422.8 L484.78 421.4 L486.09 419.8 L487.39 418.3 L488.70 416.6 L490.00 414.9 L491.30 413.2 L492.61 411.6 L493.91 409.9 L495.22 408.2 L496.52 406.5 L497.83 404.8 L499.13 403.0 L500.43 401.1 L501.74 399.1 L503.04 396.9 L504.35 394.6 L505.65 392.2 L506.96 389.7 L508.26 387.1 L509.57 384.4 L510.87 381.7 L512.17 379.1 L513.48 376.5 L514.78 373.9 L516.09 371.1 L517.39 368.4 L518.70 365.6 L520.00 363.0 L521.30 360.6 L522.61 358.4 L523.91 356.1 L525.22 353.9 L526.52 351.9 L527.83 350.4 L529.13 349.5 L530.43 348.9 L531.74 348.5 L533.04 348.1 L534.35 347.9 L535.65 347.8 L536.96 348.0 L538.26 348.4 L539.57 349.0 L540.87 349.7 L542.17 350.8 L543.48 352.4 L544.78 354.1 L546.09 355.9 L547.39 357.6 L548.70 359.1 L550.00 360.4 L551.30 361.8 L552.61 363.2 L553.91 364.5 L555.22 365.7 L556.52 366.7 L557.83 367.6 L559.13 368.4 L560.43 369.1 L561.74 369.9 L563.04 370.5 L564.35 371.1 L565.65 371.6 L566.96 371.9 L568.26 372.0 L569.57 372.0 L570.87 371.8 L572.17 371.6 L573.48 371.4 L574.78 371.1 L576.09 370.7 L577.39 370.3 L578.70 369.7 L580.00 369.0 L581.30 368.1 L582.61 367.1 L583.91 366.1 L585.22 364.9 L586.52 363.8 L587.83 362.6 L589.13 361.5 L590.43 360.2 L591.74 358.9 L593.04 357.4 L594.35 355.9 L595.65 354.4 L596.96 352.8 L598.26 351.2 L599.57 349.5 L600.87 347.9 L602.17 346.2 L603.48 344.4 L604.78 342.5 L606.09 340.6 L607.39 338.7 L608.70 336.8 L610.00 334.8 L611.30 332.9 L612.61 330.9 L613.91 329.0 L615.22 327.0 L616.52 325.1 L617.83 323.1 L619.13 321.1 L620.43 319.1 L621.74 317.1 L623.04 315.1 L624.35 313.0 L625.65 310.9 L626.96 308.8 L628.26 306.7 L629.57 304.5 L630.87 302.3 L632.17 300.1 L633.48 297.8 L634.78 295.6 L636.09 293.6 L637.39 291.5 L638.70 289.3 L640.00 287.0 L641.30 284.6 L642.61 281.9 L643.91 278.8 L645.22 275.4 L646.52 270.9 L647.83 265.4 L649.13 259.6 L650.43 253.8 L651.74 248.5" stroke="#dc0070"/>
<path d="M97.39 419.0 L98.70 418.7 L100.00 418.5 L101.30 418.3 L102.61 418.1 L103.91 417.9 L105.22 417.7 L106.52 417.4 L107.83 417.2 L109.13 416.9 L110.43 416.7 L111.74 416.5 L113.04 416.2 L114.35 416.0 L115.65 415.8 L116.96 415.6 L118.26 415.4 L119.57 415.2 L120.87 415.0 L122.17 414.9 L123.48 414.7 L124.78 414.6 L126.09 414.5 L127.39 414.4 L128.70 414.3 L130.00 414.2 L131.30 414.1 L132.61 414.0 L133.91 413.9 L135.22 413.8 L136.52 413.7 L137.83 413.7 L139.13 413.6 L140.43 413.5 L141.74 413.5 L143.04 413.4 L144.35 413.3 L145.65 413.3 L146.96 413.2 L148.26 413.2 L149.57 413.1 L150.87 413.1 L152.17 413.0 L153.48 413.0 L154.78 412.9 L156.09 412.9 L157.39 412.9 L158.70 412.8 L160.00 412.8 L161.30 412.8 L162.61 412.8 L163.91 412.8 L165.22 412.7 L166.52 412.7 L167.83 412.7 L169.13 412.7 L170.43 412.7 L171.74 412.7 L173.04 412.6 L174.35 412.6 L175.65 412.6 L176.96 412.6 L178.26 412.6 L179.57 412.5 L180.87 412.5 L182.17 412.4 L183.48 412.4 L184.78 412.2 L186.09 412.0 L187.39 411.8 L188.70 411.5 L190.00 411.2 L191.30 410.8 L192.61 410.4 L193.91 410.0 L195.22 409.5 L196.52 409.1 L197.83 408.6 L199.13 408.2 L200.43 407.7 L201.74 407.2 L203.04 406.6 L204.35 406.0 L205.65 405.4 L206.96 404.7 L208.26 403.9 L209.57 403.2 L210.87 402.4 L212.17 401.6 L213.48 400.8 L214.78 399.9 L216.09 398.8 L217.39 397.8 L218.70 397.0 L220.00 396.5 L221.30 396.1 L222.61 395.7 L223.91 395.3 L225.22 395.0 L226.52 394.8 L227.83 394.6 L229.13 394.5 L230.43 394.5 L231.74 394.4 L233.04 394.3 L234.35 394.2 L235.65 394.2 L236.96 394.1 L238.26 394.1 L239.57 394.1 L240.87 394.0 L242.17 394.0 L243.48 394.0 L244.78 394.0 L246.09 394.1 L247.39 394.3 L248.70 394.7 L250.00 395.1 L251.30 395.5 L252.61 396.0 L253.91 396.6 L255.22 397.1 L256.52 397.6 L257.83 398.1 L259.13 398.5 L260.43 398.8 L261.74 399.1 L263.04 399.5 L264.35 399.8 L265.65 400.1 L266.96 400.5 L268.26 400.8 L269.57 401.1 L270.87 401.4 L272.17 401.7 L273.48 402.0 L274.78 402.2 L276.09 402.4 L277.39 402.5 L278.70 402.6 L280.00 402.7 L281.30 402.7 L282.61 402.7 L283.91 402.7 L285.22 402.7 L286.52 402.7 L287.83 402.7 L289.13 402.7 L290.43 402.7 L291.74 402.7 L293.04 402.8 L294.35 402.8 L295.65 402.8 L296.96 402.8 L298.26 402.8 L299.57 402.8 L300.87 402.8 L302.17 402.9 L303.48 403.0 L304.78 403.3 L306.09 403.5 L307.39 403.8 L308.70 404.2 L310.00 404.5 L311.30 404.9 L312.61 405.4 L313.91 406.0 L315.22 406.5 L316.52 406.9 L317.83 407.3 L319.13 407.7 L320.43 408.1 L321.74 408.5 L323.04 408.8 L324.35 409.2 L325.65 409.6 L326.96 409.9 L328.26 410.3 L329.57 410.7 L330.87 411.0 L332.17 411.4 L333.48 411.7 L334.78 412.1 L336.09 412.4 L337.39 412.8 L338.70 413.2 L340.00 413.5 L341.30 413.9 L342.61 414.2 L343.91 414.6 L345.22 414.9 L346.52 415.3 L347.83 415.7 L349.13 416.0 L350.43 416.4 L351.74 416.8 L353.04 417.1 L354.35 417.5 L355.65 417.9 L356.96 418.3 L358.26 418.7 L359.57 419.1 L360.87 419.6 L362.17 420.0 L363.48 420.5 L364.78 420.9 L366.09 421.3 L367.39 421.7 L368.70 422.0 L370.00 422.3 L371.30 422.6 L372.61 422.9 L373.91 423.3 L375.22 423.6 L376.52 423.9 L377.83 424.2 L379.13 424.5 L380.43 424.7 L381.74 424.9 L383.04 425.2 L384.35 425.3 L385.65 425.5 L386.96 425.5 L388.26 425.6 L389.57 425.6 L390.87 425.6 L392.17 425.6 L393.48 425.5 L394.78 425.5 L396.09 425.4 L397.39 425.4 L398.70 425.3 L400.00 425.3 L401.30 425.2 L402.61 425.1 L403.91 425.1 L405.22 425.0 L406.52 424.9 L407.83 424.8 L409.13 424.8 L410.43 424.7 L411.74 424.6 L413.04 424.5 L414.35 424.4 L415.65 424.3 L416.96 424.2 L418.26 424.1 L419.57 424.0 L420.87 423.9 L422.17 423.8 L423.48 423.7 L424.78 423.6 L426.09 423.5 L427.39 423.4 L428.70 423.4 L430.00 423.3 L431.30 423.2 L432.61 423.2 L433.91 423.1 L435.22 423.1 L436.52 423.0 L437.83 423.0 L439.13 422.9 L440.43 422.9 L441.74 422.8 L443.04 422.7 L444.35 422.7 L445.65 422.6 L446.96 422.5 L448.26 422.4 L449.57 422.2 L450.87 422.0 L452.17 421.8 L453.48 421.4 L454.78 421.1 L456.09 420.6 L457.39 420.2 L458.70 419.7 L460.00 419.1 L461.30 418.6 L462.61 418.0 L463.91 417.5 L465.22 416.9 L466.52 416.3 L467.83 415.7 L469.13 415.1 L470.43 414.4 L471.74 413.6 L473.04 412.9 L474.35 412.1 L475.65 411.2 L476.96 410.4 L478.26 409.5 L479.57 408.6 L480.87 407.6 L482.17 406.6 L483.48 405.5 L484.78 404.4 L486.09 403.1 L487.39 401.8 L488.70 400.3 L490.00 398.7 L491.30 397.1 L492.61 395.5 L493.91 394.0 L495.22 392.6 L496.52 391.2 L497.83 389.7 L499.13 388.2 L500.43 386.5 L501.74 384.7 L503.04 382.8 L504.35 380.8 L505.65 378.7 L506.96 376.5 L508.26 374.3 L509.57 372.0 L510.87 369.6 L512.17 367.2 L513.48 364.8 L514.78 362.3 L516.09 359.7 L517.39 357.0 L518.70 354.2 L520.00 351.3 L521.30 348.5 L522.61 345.6 L523.91 342.8 L525.22 340.1 L526.52 337.3 L527.83 334.5 L529.13 331.8 L530.43 329.2 L531.74 327.0 L533.04 324.9 L534.35 322.7 L535.65 320.8 L536.96 319.3 L538.26 318.7 L539.57 318.6 L540.87 318.5 L542.17 318.4 L543.48 318.3 L544.78 318.3 L546.09 318.5 L547.39 319.7 L548.70 321.4 L550.00 323.5 L551.30 325.5 L552.61 327.2 L553.91 328.9 L555.22 330.6 L556.52 332.4 L557.83 334.1 L559.13 335.7 L560.43 337.2 L561.74 338.5 L563.04 339.6 L564.35 340.7 L565.65 341.7 L566.96 342.7 L568.26 343.5 L569.57 344.3 L570.87 344.9 L572.17 345.3 L573.48 345.6 L574.78 345.8 L576.09 345.9 L577.39 345.9 L578.70 345.8 L580.00 345.6 L581.30 345.5 L582.61 345.3 L583.91 344.9 L585.22 344.3 L586.52 343.4 L587.83 342.4 L589.13 341.4 L590.43 340.3 L591.74 339.1 L593.04 337.8 L594.35 336.4 L595.65 334.8 L596.96 333.2 L598.26 331.5 L599.57 329.9 L600.87 328.3 L602.17 326.8 L603.48 325.3 L604.78 323.9 L606.09 322.5 L607.39 321.1 L608.70 319.6 L610.00 318.2 L611.30 316.7 L612.61 315.1 L613.91 313.4 L615.22 311.8 L616.52 310.1 L617.83 308.4 L619.13 306.6 L620.43 304.8 L621.74 302.9 L623.04 301.0 L624.35 298.9 L625.65 296.8 L626.96 294.5 L628.26 292.1 L629.57 289.4 L630.87 286.6 L632.17 283.7 L633.48 280.6 L634.78 277.5 L636.09 274.3 L637.39 271.0 L638.70 267.8 L640.00 264.6 L641.30 261.5 L642.61 258.3 L643.91 255.0 L645.22 251.8 L646.52 248.5 L647.83 245.2 L649.13 241.9 L650.43 238.6 L651.74 235.3" stroke="#4b7d14"/>
<path d="M97.39 391.6 L98.70 391.3 L100.00 391.0 L101.30 390.7 L102.61 390.4 L103.91 390.0 L105.22 389.7 L106.52 389.4 L107.83 389.0 L109.13 388.7 L110.43 388.4 L111.74 388.0 L113.04 387.7 L114.35 387.4 L115.65 387.1 L116.96 386.7 L118.26 386.4 L119.57 386.1 L120.87 385.8 L122.17 385.5 L123.48 385.3 L124.78 385.0 L126.09 384.8 L127.39 384.5 L128.70 384.3 L130.00 384.0 L131.30 383.8 L132.61 383.6 L133.91 383.4 L135.22 383.2 L136.52 383.0 L137.83 382.8 L139.13 382.6 L140.43 382.4 L141.74 382.2 L143.04 382.0 L144.35 381.8 L145.65 381.6 L146.96 381.4 L148.26 381.2 L149.57 381.0 L150.87 380.8 L152.17 380.7 L153.48 380.5 L154.78 380.3 L156.09 380.1 L157.39 379.9 L158.70 379.7 L160.00 379.5 L161.30 379.4 L162.61 379.2 L163.91 379.0 L165.22 378.9 L166.52 378.7 L167.83 378.6 L169.13 378.4 L170.43 378.2 L171.74 378.1 L173.04 377.9 L174.35 377.7 L175.65 377.5 L176.96 377.3 L178.26 377.1 L179.57 376.9 L180.87 376.7 L182.17 376.4 L183.48 376.2 L184.78 375.9 L186.09 375.6 L187.39 375.3 L188.70 375.0 L190.00 374.6 L191.30 374.3 L192.61 373.9 L193.91 373.5 L195.22 373.1 L196.52 372.7 L197.83 372.3 L199.13 371.9 L200.43 371.5 L201.74 371.1 L203.04 370.6 L204.35 370.0 L205.65 369.5 L206.96 368.9 L208.26 368.4 L209.57 367.8 L210.87 367.3 L212.17 366.9 L213.48 366.5 L214.78 366.2 L216.09 365.8 L217.39 365.5 L218.70 365.2 L220.00 364.9 L221.30 364.7 L222.61 364.6 L223.91 364.5 L225.22 364.6 L226.52 364.8 L227.83 365.1 L229.13 365.6 L230.43 366.1 L231.74 366.7 L233.04 367.3 L234.35 367.9 L235.65 368.5 L236.96 369.0 L238.26 369.5 L239.57 370.0 L240.87 370.5 L242.17 371.0 L243.48 371.6 L244.78 372.1 L246.09 372.7 L247.39 373.2 L248.70 373.8 L250.00 374.3 L251.30 374.9 L252.61 375.4 L253.91 375.9 L255.22 376.4 L256.52 376.9 L257.83 377.3 L259.13 377.8 L260.43 378.4 L261.74 378.9 L263.04 379.4 L264.35 379.9 L265.65 380.4 L266.96 380.9 L268.26 381.3 L269.57 381.7 L270.87 382.0 L272.17 382.3 L273.48 382.5 L274.78 382.6 L276.09 382.7 L277.39 382.8 L278.70 382.9 L280.00 382.9 L281.30 383.0 L282.61 383.0 L283.91 383.1 L285.22 383.1 L286.52 383.2 L287.83 383.2 L289.13 383.2 L290.43 383.3 L291.74 383.4 L293.04 383.4 L294.35 383.5 L295.65 383.6 L296.96 383.8 L298.26 384.0 L299.57 384.5 L300.87 385.1 L302.17 385.7 L303.48 386.5 L304.78 387.3 L306.09 388.1 L307.39 388.8 L308.70 389.5 L310.00 390.2 L311.30 390.9 L312.61 391.6 L313.91 392.3 L315.22 393.0 L316.52 393.7 L317.83 394.4 L319.13 395.1 L320.43 395.8 L321.74 396.4 L323.04 397.0 L324.35 397.6 L325.65 398.1 L326.96 398.6 L328.26 399.1 L329.57 399.6 L330.87 400.1 L332.17 400.5 L333.48 401.0 L334.78 401.5 L336.09 401.9 L337.39 402.3 L338.70 402.8 L340.00 403.2 L341.30 403.7 L342.61 404.1 L343.91 404.6 L345.22 405.0 L346.52 405.5 L347.83 406.0 L349.13 406.4 L350.43 406.9 L351.74 407.4 L353.04 407.9 L354.35 408.3 L355.65 408.8 L356.96 409.3 L358.26 409.8 L359.57 410.2 L360.87 410.7 L362.17 411.1 L363.48 411.5 L364.78 411.9 L366.09 412.3 L367.39 412.7 L368.70 413.0 L370.00 413.3 L371.30 413.7 L372.61 414.1 L373.91 414.4 L375.22 414.8 L376.52 415.1 L377.83 415.5 L379.13 415.8 L380.43 416.1 L381.74 416.4 L383.04 416.6 L384.35 416.8 L385.65 417.0 L386.96 417.1 L388.26 417.2 L389.57 417.2 L390.87 417.2 L392.17 417.2 L393.48 417.2 L394.78 417.2 L396.09 417.3 L397.39 417.3 L398.70 417.3 L400.00 417.3 L401.30 417.3 L402.61 417.3 L403.91 417.3 L405.22 417.3 L406.52 417.3 L407.83 417.3 L409.13 417.3 L410.43 417.3 L411.74 417.3 L413.04 417.3 L414.35 417.3 L415.65 417.3 L416.96 417.3 L418.26 417.3 L419.57 417.2 L420.87 417.2 L422.17 417.2 L423.48 417.2 L424.78 417.1 L426.09 417.1 L427.39 417.0 L428.70 417.0 L430.00 416.9 L431.30 416.8 L432.61 416.6 L433.91 416.4 L435.22 416.2 L436.52 415.9 L437.83 415.6 L439.13 415.2 L440.43 414.9 L441.74 414.5 L443.04 414.1 L444.35 413.7 L445.65 413.4 L446.96 413.0 L448.26 412.6 L449.57 412.2 L450.87 411.9 L452.17 411.5 L453.48 411.1 L454.78 410.7 L456.09 410.2 L457.39 409.8 L458.70 409.3 L460.00 408.8 L461.30 408.3 L462.61 407.8 L463.91 407.3 L465.22 406.7 L466.52 406.1 L467.83 405.5 L469.13 404.8 L470.43 404.1 L471.74 403.3 L473.04 402.5 L474.35 401.7 L475.65 400.8 L476.96 399.9 L478.26 399.0 L479.57 398.0 L480.87 397.0 L482.17 395.9 L483.48 394.8 L484.78 393.6 L486.09 392.3 L487.39 390.9 L488.70 389.5 L490.00 387.9 L491.30 386.4 L492.61 384.7 L493.91 383.0 L495.22 381.3 L496.52 379.4 L497.83 377.5 L499.13 375.5 L500.43 373.4 L501.74 371.1 L503.04 368.8 L504.35 366.3 L505.65 363.8 L506.96 361.2 L508.26 358.5 L509.57 355.6 L510.87 352.5 L512.17 349.2 L513.48 345.8 L514.78 342.4 L516.09 339.0 L517.39 335.6 L518.70 332.2 L520.00 328.7 L521.30 325.0 L522.61 321.5 L523.91 318.0 L525.22 314.9 L526.52 312.1 L527.83 309.4 L529.13 306.9 L530.43 304.7 L531.74 302.9 L533.04 301.7 L534.35 300.6 L535.65 299.6 L536.96 298.9 L538.26 298.5 L539.57 298.7 L540.87 299.5 L542.17 300.9 L543.48 302.6 L544.78 304.5 L546.09 306.3 L547.39 308.0 L548.70 310.1 L550.00 312.3 L551.30 314.6 L552.61 316.9 L553.91 319.1 L555.22 321.2 L556.52 322.9 L557.83 324.6 L559.13 326.2 L560.43 327.8 L561.74 329.3 L563.04 330.6 L564.35 331.8 L565.65 332.6 L566.96 333.3 L568.26 333.8 L569.57 334.4 L570.87 334.8 L572.17 335.1 L573.48 335.4 L574.78 335.4 L576.09 335.3 L577.39 335.0 L578.70 334.6 L580.00 334.1 L581.30 333.5 L582.61 332.9 L583.91 332.3 L585.22 331.7 L586.52 330.9 L587.83 330.0 L589.13 329.0 L590.43 327.9 L591.74 326.8 L593.04 325.6 L594.35 324.3 L595.65 323.0 L596.96 321.6 L598.26 320.3 L599.57 318.9 L600.87 317.5 L602.17 316.0 L603.48 314.4 L604.78 312.8 L606.09 311.1 L607.39 309.4 L608.70 307.6 L610.00 305.8 L611.30 303.9 L612.61 302.0 L613.91 300.0 L615.22 298.0 L616.52 296.0 L617.83 293.9 L619.13 291.7 L620.43 289.5 L621.74 287.2 L623.04 284.8 L624.35 282.3 L625.65 279.7 L626.96 277.1 L628.26 274.4 L629.57 271.7 L630.87 268.9 L632.17 265.9 L633.48 262.8 L634.78 259.6 L636.09 256.4 L637.39 253.0 L638.70 249.7 L640.00 246.3 L641.30 242.9 L642.61 239.3 L643.91 235.7 L645.22 232.1 L646.52 228.4 L647.83 224.6 L649.13 220.9 L650.43 217.2 L651.74 213.6" stroke="#00008b"/>
<path d="M97.39 368.4 L98.70 368.1 L100.00 367.8 L101.30 367.5 L102.61 367.2 L103.91 366.9 L105.22 366.5 L106.52 366.2 L107.83 365.9 L109.13 365.5 L110.43 365.2 L111.74 364.9 L113.04 364.5 L114.35 364.2 L115.65 363.9 L116.96 363.6 L118.26 363.3 L119.57 363.0 L120.87 362.7 L122.17 362.4 L123.48 362.1 L124.78 361.9 L126.09 361.7 L127.39 361.4 L128.70 361.2 L130.00 361.0 L131.30 360.8 L132.61 360.6 L133.91 360.4 L135.22 360.2 L136.52 360.1 L137.83 359.9 L139.13 359.7 L140.43 359.6 L141.74 359.4 L143.04 359.2 L144.35 359.1 L145.65 358.9 L146.96 358.7 L148.26 358.6 L149.57 358.4 L150.87 358.2 L152.17 358.0 L153.48 357.9 L154.78 357.7 L156.09 357.5 L157.39 357.3 L158.70 357.1 L160.00 356.9 L161.30 356.7 L162.61 356.5 L163.91 356.3 L165.22 356.2 L166.52 356.0 L167.83 355.8 L169.13 355.6 L170.43 355.4 L171.74 355.2 L173.04 355.0 L174.35 354.8 L175.65 354.5 L176.96 354.3 L178.26 354.1 L179.57 353.8 L180.87 353.6 L182.17 353.3 L183.48 353.1 L184.78 352.8 L186.09 352.5 L187.39 352.2 L188.70 351.8 L190.00 351.5 L191.30 351.2 L192.61 350.8 L193.91 350.5 L195.22 350.1 L196.52 349.7 L197.83 349.4 L199.13 349.0 L200.43 348.6 L201.74 348.2 L203.04 347.7 L204.35 347.2 L205.65 346.7 L206.96 346.1 L208.26 345.6 L209.57 345.1 L210.87 344.6 L212.17 344.3 L213.48 344.0 L214.78 343.8 L216.09 343.7 L217.39 343.7 L218.70 343.7 L220.00 343.8 L221.30 343.8 L222.61 343.9 L223.91 343.9 L225.22 344.0 L226.52 344.1 L227.83 344.2 L229.13 344.3 L230.43 344.4 L231.74 344.6 L233.04 344.8 L234.35 345.1 L235.65 345.5 L236.96 346.0 L238.26 346.4 L239.57 346.9 L240.87 347.5 L242.17 348.0 L243.48 348.6 L244.78 349.1 L246.09 349.7 L247.39 350.2 L248.70 350.7 L250.00 351.2 L251.30 351.6 L252.61 352.1 L253.91 352.6 L255.22 353.1 L256.52 353.6 L257.83 354.1 L259.13 354.7 L260.43 355.2 L261.74 355.7 L263.04 356.2 L264.35 356.7 L265.65 357.2 L266.96 357.6 L268.26 358.0 L269.57 358.4 L270.87 358.7 L272.17 359.0 L273.48 359.3 L274.78 359.4 L276.09 359.6 L277.39 359.7 L278.70 359.9 L280.00 360.0 L281.30 360.0 L282.61 360.1 L283.91 360.2 L285.22 360.3 L286.52 360.3 L287.83 360.4 L289.13 360.5 L290.43 360.6 L291.74 360.7 L293.04 360.8 L294.35 361.0 L295.65 361.2 L296.96 361.4 L298.26 361.7 L299.57 362.2 L300.87 362.8 L302.17 363.5 L303.48 364.3 L304.78 365.1 L306.09 365.9 L307.39 366.7 L308.70 367.5 L310.00 368.3 L311.30 369.2 L312.61 370.1 L313.91 371.1 L315.22 372.1 L316.52 373.1 L317.83 374.1 L319.13 375.1 L320.43 376.0 L321.74 376.8 L323.04 377.5 L324.35 378.2 L325.65 378.9 L326.96 379.6 L328.26 380.2 L329.57 380.8 L330.87 381.4 L332.17 382.0 L333.48 382.6 L334.78 383.1 L336.09 383.7 L337.39 384.2 L338.70 384.8 L340.00 385.3 L341.30 385.8 L342.61 386.4 L343.91 386.9 L345.22 387.5 L346.52 388.0 L347.83 388.6 L349.13 389.1 L350.43 389.7 L351.74 390.2 L353.04 390.8 L354.35 391.3 L355.65 391.9 L356.96 392.4 L358.26 392.9 L359.57 393.4 L360.87 393.9 L362.17 394.4 L363.48 394.9 L364.78 395.3 L366.09 395.7 L367.39 396.1 L368.70 396.5 L370.00 396.9 L371.30 397.2 L372.61 397.6 L373.91 397.9 L375.22 398.3 L376.52 398.6 L377.83 399.0 L379.13 399.3 L380.43 399.6 L381.74 399.8 L383.04 400.1 L384.35 400.3 L385.65 400.6 L386.96 400.8 L388.26 400.9 L389.57 401.1 L390.87 401.2 L392.17 401.4 L393.48 401.5 L394.78 401.6 L396.09 401.7 L397.39 401.9 L398.70 402.0 L400.00 402.1 L401.30 402.2 L402.61 402.3 L403.91 402.4 L405.22 402.5 L406.52 402.5 L407.83 402.6 L409.13 402.6 L410.43 402.7 L411.74 402.7 L413.04 402.7 L414.35 402.7 L415.65 402.6 L416.96 402.5 L418.26 402.3 L419.57 402.2 L420.87 402.0 L422.17 401.9 L423.48 401.7 L424.78 401.6 L426.09 401.5 L427.39 401.4 L428.70 401.4 L430.00 401.3 L431.30 401.3 L432.61 401.2 L433.91 401.2 L435.22 401.2 L436.52 401.1 L437.83 401.1 L439.13 401.0 L440.43 401.0 L441.74 400.9 L443.04 400.8 L444.35 400.7 L445.65 400.6 L446.96 400.3 L448.26 400.0 L449.57 399.7 L450.87 399.3 L452.17 398.9 L453.48 398.4 L454.78 397.9 L456.09 397.4 L457.39 396.8 L458.70 396.3 L460.00 395.7 L461.30 395.1 L462.61 394.5 L463.91 393.9 L465.22 393.2 L466.52 392.5 L467.83 391.8 L469.13 391.0 L470.43 390.1 L471.74 389.2 L473.04 388.2 L474.35 387.2 L475.65 386.2 L476.96 385.1 L478.26 383.9 L479.57 382.8 L480.87 381.5 L482.17 380.1 L483.48 378.6 L484.78 377.0 L486.09 375.3 L487.39 373.5 L488.70 371.7 L490.00 369.8 L491.30 367.9 L492.61 366.0 L493.91 364.0 L495.22 362.0 L496.52 360.0 L497.83 357.8 L499.13 355.7 L500.43 353.4 L501.74 351.1 L503.04 348.7 L504.35 346.3 L505.65 343.7 L506.96 341.1 L508.26 338.3 L509.57 335.4 L510.87 332.4 L512.17 329.3 L513.48 326.1 L514.78 323.0 L516.09 319.8 L517.39 316.5 L518.70 313.2 L520.00 309.8 L521.30 306.3 L522.61 303.0 L523.91 299.7 L525.22 296.5 L526.52 293.4 L527.83 290.5 L529.13 288.0 L530.43 285.5 L531.74 283.4 L533.04 281.6 L534.35 280.2 L535.65 278.9 L536.96 277.9 L538.26 277.3 L539.57 277.4 L540.87 278.0 L542.17 279.0 L543.48 280.3 L544.78 281.7 L546.09 283.1 L547.39 284.7 L548.70 286.8 L550.00 289.3 L551.30 291.9 L552.61 294.7 L553.91 297.4 L555.22 299.9 L556.52 302.1 L557.83 304.2 L559.13 306.3 L560.43 308.4 L561.74 310.4 L563.04 312.2 L564.35 313.8 L565.65 315.1 L566.96 316.1 L568.26 317.1 L569.57 318.0 L570.87 318.9 L572.17 319.6 L573.48 320.2 L574.78 320.6 L576.09 320.8 L577.39 320.8 L578.70 320.6 L580.00 320.4 L581.30 320.1 L582.61 319.8 L583.91 319.4 L585.22 319.0 L586.52 318.4 L587.83 317.7 L589.13 316.8 L590.43 315.9 L591.74 314.8 L593.04 313.7 L594.35 312.5 L595.65 311.3 L596.96 310.1 L598.26 308.8 L599.57 307.5 L600.87 306.1 L602.17 304.6 L603.48 303.1 L604.78 301.5 L606.09 299.8 L607.39 298.0 L608.70 296.2 L610.00 294.3 L611.30 292.4 L612.61 290.4 L613.91 288.4 L615.22 286.3 L616.52 284.2 L617.83 281.9 L619.13 279.6 L620.43 277.1 L621.74 274.6 L623.04 272.0 L624.35 269.3 L625.65 266.6 L626.96 263.9 L628.26 261.1 L629.57 258.4 L630.87 255.6 L632.17 252.8 L633.48 250.0 L634.78 247.1 L636.09 244.1 L637.39 241.1 L638.70 237.9 L640.00 234.6 L641.30 231.2 L642.61 227.6 L643.91 223.8 L645.22 219.8 L646.52 215.7 L647.83 211.5 L649.13 207.4 L650.43 203.3 L651.74 199.4" stroke="#ee7d14"/>
<path d="M97.39 347.2 L98.70 346.9 L100.00 346.5 L101.30 346.1 L102.61 345.7 L103.91 345.3 L105.22 344.9 L106.52 344.5 L107.83 344.1 L109.13 343.7 L110.43 343.2 L111.74 342.8 L113.04 342.4 L114.35 342.0 L115.65 341.6 L116.96 341.2 L118.26 340.9 L119.57 340.5 L120.87 340.2 L122.17 339.9 L123.48 339.6 L124.78 339.3 L126.09 339.1 L127.39 338.8 L128.70 338.6 L130.00 338.4 L131.30 338.2 L132.61 338.0 L133.91 337.8 L135.22 337.7 L136.52 337.5 L137.83 337.4 L139.13 337.2 L140.43 337.1 L141.74 336.9 L143.04 336.8 L144.35 336.6 L145.65 336.5 L146.96 336.3 L148.26 336.2 L149.57 336.0 L150.87 335.8 L152.17 335.7 L153.48 335.5 L154.78 335.3 L156.09 335.1 L157.39 334.9 L158.70 334.7 L160.00 334.4 L161.30 334.2 L162.61 334.0 L163.91 333.8 L165.22 333.5 L166.52 333.3 L167.83 333.0 L169.13 332.8 L170.43 332.5 L171.74 332.3 L173.04 332.0 L174.35 331.8 L175.65 331.5 L176.96 331.2 L178.26 331.0 L179.57 330.7 L180.87 330.4 L182.17 330.1 L183.48 329.9 L184.78 329.6 L186.09 329.3 L187.39 329.0 L188.70 328.6 L190.00 328.3 L191.30 328.0 L192.61 327.7 L193.91 327.4 L195.22 327.0 L196.52 326.7 L197.83 326.4 L199.13 326.0 L200.43 325.7 L201.74 325.4 L203.04 325.0 L204.35 324.6 L205.65 324.1 L206.96 323.7 L208.26 323.2 L209.57 322.8 L210.87 322.4 L212.17 322.0 L213.48 321.7 L214.78 321.5 L216.09 321.3 L217.39 321.2 L218.70 321.2 L220.00 321.2 L221.30 321.3 L222.61 321.4 L223.91 321.5 L225.22 321.6 L226.52 321.8 L227.83 322.0 L229.13 322.3 L230.43 322.8 L231.74 323.3 L233.04 323.9 L234.35 324.5 L235.65 325.1 L236.96 325.7 L238.26 326.3 L239.57 326.8 L240.87 327.2 L242.17 327.6 L243.48 328.0 L244.78 328.4 L246.09 328.7 L247.39 329.1 L248.70 329.4 L250.00 329.8 L251.30 330.1 L252.61 330.5 L253.91 330.8 L255.22 331.2 L256.52 331.6 L257.83 332.0 L259.13 332.4 L260.43 332.8 L261.74 333.3 L263.04 334.0 L264.35 334.6 L265.65 335.4 L266.96 336.1 L268.26 336.8 L269.57 337.4 L270.87 337.9 L272.17 338.3 L273.48 338.5 L274.78 338.6 L276.09 338.6 L277.39 338.5 L278.70 338.5 L280.00 338.4 L281.30 338.3 L282.61 338.2 L283.91 338.2 L285.22 338.1 L286.52 338.0 L287.83 337.9 L289.13 337.9 L290.43 337.9 L291.74 338.0 L293.04 338.3 L294.35 338.7 L295.65 339.3 L296.96 340.0 L298.26 340.7 L299.57 341.4 L300.87 342.1 L302.17 343.0 L303.48 344.0 L304.78 345.1 L306.09 346.4 L307.39 347.6 L308.70 348.9 L310.00 350.2 L311.30 351.4 L312.61 352.4 L313.91 353.4 L315.22 354.4 L316.52 355.4 L317.83 356.3 L319.13 357.2 L320.43 358.1 L321.74 358.9 L323.04 359.6 L324.35 360.4 L325.65 361.1 L326.96 361.8 L328.26 362.4 L329.57 363.1 L330.87 363.7 L332.17 364.3 L333.48 364.9 L334.78 365.5 L336.09 366.0 L337.39 366.6 L338.70 367.2 L340.00 367.8 L341.30 368.3 L342.61 368.9 L343.91 369.5 L345.22 370.1 L346.52 370.7 L347.83 371.3 L349.13 371.9 L350.43 372.6 L351.74 373.2 L353.04 373.9 L354.35 374.5 L355.65 375.1 L356.96 375.8 L358.26 376.4 L359.57 377.0 L360.87 377.5 L362.17 378.1 L363.48 378.6 L364.78 379.1 L366.09 379.5 L367.39 379.9 L368.70 380.3 L370.00 380.6 L371.30 381.0 L372.61 381.3 L373.91 381.6 L375.22 382.0 L376.52 382.3 L377.83 382.6 L379.13 382.9 L380.43 383.2 L381.74 383.4 L383.04 383.7 L384.35 383.9 L385.65 384.1 L386.96 384.3 L388.26 384.5 L389.57 384.6 L390.87 384.8 L392.17 384.9 L393.48 384.9 L394.78 385.0 L396.09 385.1 L397.39 385.2 L398.70 385.2 L400.00 385.3 L401.30 385.4 L402.61 385.4 L403.91 385.5 L405.22 385.5 L406.52 385.6 L407.83 385.6 L409.13 385.7 L410.43 385.7 L411.74 385.8 L413.04 385.8 L414.35 385.8 L415.65 385.9 L416.96 385.9 L418.26 385.9 L419.57 385.9 L420.87 386.0 L422.17 386.0 L423.48 386.0 L424.78 386.0 L426.09 386.0 L427.39 386.0 L428.70 386.0 L430.00 385.9 L431.30 385.9 L432.61 385.9 L433.91 385.8 L435.22 385.7 L436.52 385.6 L437.83 385.6 L439.13 385.5 L440.43 385.4 L441.74 385.3 L443.04 385.1 L444.35 385.0 L445.65 384.9 L446.96 384.7 L448.26 384.5 L449.57 384.2 L450.87 383.8 L452.17 383.3 L453.48 382.9 L454.78 382.3 L456.09 381.7 L457.39 381.1 L458.70 380.5 L460.00 379.8 L461.30 379.1 L462.61 378.4 L463.91 377.7 L465.22 377.0 L466.52 376.3 L467.83 375.5 L469.13 374.7 L470.43 373.8 L471.74 372.9 L473.04 371.9 L474.35 370.8 L475.65 369.7 L476.96 368.6 L478.26 367.4 L479.57 366.1 L480.87 364.9 L482.17 363.6 L483.48 362.2 L484.78 360.7 L486.09 359.1 L487.39 357.5 L488.70 355.7 L490.00 353.9 L491.30 352.0 L492.61 350.0 L493.91 347.9 L495.22 345.7 L496.52 343.2 L497.83 340.6 L499.13 337.8 L500.43 335.0 L501.74 332.0 L503.04 329.0 L504.35 326.0 L505.65 322.8 L506.96 319.5 L508.26 316.1 L509.57 312.7 L510.87 309.2 L512.17 305.7 L513.48 302.2 L514.78 298.6 L516.09 295.0 L517.39 291.5 L518.70 288.3 L520.00 285.1 L521.30 281.9 L522.61 278.9 L523.91 275.9 L525.22 273.0 L526.52 270.2 L527.83 267.6 L529.13 265.2 L530.43 262.8 L531.74 260.6 L533.04 259.0 L534.35 257.7 L535.65 256.6 L536.96 255.8 L538.26 255.5 L539.57 255.8 L540.87 256.8 L542.17 258.1 L543.48 259.8 L544.78 261.6 L546.09 263.4 L547.39 265.3 L548.70 267.5 L550.00 270.1 L551.30 272.9 L552.61 275.7 L553.91 278.5 L555.22 281.2 L556.52 283.6 L557.83 286.0 L559.13 288.5 L560.43 290.9 L561.74 293.2 L563.04 295.4 L564.35 297.3 L565.65 298.8 L566.96 300.0 L568.26 301.1 L569.57 302.1 L570.87 303.1 L572.17 303.9 L573.48 304.6 L574.78 305.1 L576.09 305.3 L577.39 305.3 L578.70 305.2 L580.00 305.0 L581.30 304.8 L582.61 304.5 L583.91 304.2 L585.22 303.8 L586.52 303.3 L587.83 302.6 L589.13 301.8 L590.43 300.8 L591.74 299.8 L593.04 298.6 L594.35 297.4 L595.65 296.1 L596.96 294.8 L598.26 293.5 L599.57 292.2 L600.87 290.7 L602.17 289.2 L603.48 287.5 L604.78 285.7 L606.09 283.9 L607.39 281.9 L608.70 279.9 L610.00 277.9 L611.30 275.8 L612.61 273.7 L613.91 271.5 L615.22 269.4 L616.52 267.2 L617.83 265.0 L619.13 262.7 L620.43 260.3 L621.74 257.8 L623.04 255.3 L624.35 252.8 L625.65 250.2 L626.96 247.6 L628.26 244.9 L629.57 242.2 L630.87 239.5 L632.17 236.7 L633.48 233.9 L634.78 231.0 L636.09 228.1 L637.39 225.0 L638.70 221.8 L640.00 218.5 L641.30 215.0 L642.61 211.2 L643.91 207.2 L645.22 202.9 L646.52 198.6 L647.83 194.1 L649.13 189.7 L650.43 185.4 L651.74 181.2" stroke="#660066"/>
<path d="M97.39 326.1 L98.70 325.7 L100.00 325.3 L101.30 324.9 L102.61 324.5 L103.91 324.1 L105.22 323.7 L106.52 323.3 L107.83 322.9 L109.13 322.5 L110.43 322.0 L111.74 321.6 L113.04 321.2 L114.35 320.8 L115.65 320.4 L116.96 320.0 L118.26 319.6 L119.57 319.3 L120.87 318.9 L122.17 318.6 L123.48 318.2 L124.78 317.9 L126.09 317.6 L127.39 317.4 L128.70 317.1 L130.00 316.8 L131.30 316.6 L132.61 316.3 L133.91 316.0 L135.22 315.8 L136.52 315.6 L137.83 315.3 L139.13 315.1 L140.43 314.9 L141.74 314.7 L143.04 314.4 L144.35 314.2 L145.65 314.0 L146.96 313.8 L148.26 313.6 L149.57 313.4 L150.87 313.2 L152.17 313.0 L153.48 312.8 L154.78 312.6 L156.09 312.4 L157.39 312.2 L158.70 312.0 L160.00 311.8 L161.30 311.7 L162.61 311.5 L163.91 311.3 L165.22 311.2 L166.52 311.0 L167.83 310.8 L169.13 310.7 L170.43 310.5 L171.74 310.4 L173.04 310.2 L174.35 310.0 L175.65 309.8 L176.96 309.7 L178.26 309.5 L179.57 309.3 L180.87 309.1 L182.17 308.8 L183.48 308.6 L184.78 308.4 L186.09 308.1 L187.39 307.8 L188.70 307.5 L190.00 307.2 L191.30 306.9 L192.61 306.6 L193.91 306.3 L195.22 306.0 L196.52 305.7 L197.83 305.3 L199.13 305.0 L200.43 304.7 L201.74 304.3 L203.04 303.8 L204.35 303.4 L205.65 302.9 L206.96 302.4 L208.26 302.0 L209.57 301.6 L210.87 301.2 L212.17 301.0 L213.48 300.9 L214.78 300.9 L216.09 300.9 L217.39 300.9 L218.70 300.9 L220.00 300.9 L221.30 300.9 L222.61 300.9 L223.91 300.9 L225.22 300.9 L226.52 300.9 L227.83 301.1 L229.13 301.4 L230.43 301.8 L231.74 302.3 L233.04 302.9 L234.35 303.5 L235.65 304.2 L236.96 304.8 L238.26 305.4 L239.57 306.0 L240.87 306.4 L242.17 306.8 L243.48 307.2 L244.78 307.6 L246.09 307.9 L247.39 308.3 L248.70 308.6 L250.00 309.0 L251.30 309.3 L252.61 309.7 L253.91 310.0 L255.22 310.4 L256.52 310.8 L257.83 311.2 L259.13 311.6 L260.43 312.0 L261.74 312.5 L263.04 313.2 L264.35 313.8 L265.65 314.6 L266.96 315.3 L268.26 316.0 L269.57 316.6 L270.87 317.1 L272.17 317.5 L273.48 317.7 L274.78 317.8 L276.09 317.8 L277.39 317.7 L278.70 317.5 L280.00 317.4 L281.30 317.2 L282.61 317.1 L283.91 316.9 L285.22 316.8 L286.52 316.7 L287.83 316.6 L289.13 316.6 L290.43 316.7 L291.74 316.9 L293.04 317.2 L294.35 317.6 L295.65 318.0 L296.96 318.5 L298.26 319.0 L299.57 319.5 L300.87 320.1 L302.17 320.9 L303.48 321.9 L304.78 323.1 L306.09 324.5 L307.39 325.9 L308.70 327.4 L310.00 328.9 L311.30 330.3 L312.61 331.6 L313.91 332.8 L315.22 334.1 L316.52 335.3 L317.83 336.5 L319.13 337.7 L320.43 338.8 L321.74 339.8 L323.04 340.8 L324.35 341.7 L325.65 342.7 L326.96 343.5 L328.26 344.4 L329.57 345.2 L330.87 346.0 L332.17 346.8 L333.48 347.6 L334.78 348.4 L336.09 349.1 L337.39 349.8 L338.70 350.5 L340.00 351.2 L341.30 351.9 L342.61 352.6 L343.91 353.2 L345.22 353.9 L346.52 354.6 L347.83 355.2 L349.13 355.8 L350.43 356.5 L351.74 357.1 L353.04 357.7 L354.35 358.3 L355.65 358.9 L356.96 359.5 L358.26 360.1 L359.57 360.6 L360.87 361.2 L362.17 361.7 L363.48 362.2 L364.78 362.7 L366.09 363.1 L367.39 363.6 L368.70 364.0 L370.00 364.4 L371.30 364.8 L372.61 365.2 L373.91 365.5 L375.22 365.9 L376.52 366.3 L377.83 366.6 L379.13 366.9 L380.43 367.3 L381.74 367.6 L383.04 367.9 L384.35 368.2 L385.65 368.5 L386.96 368.7 L388.26 369.0 L389.57 369.2 L390.87 369.5 L392.17 369.7 L393.48 369.9 L394.78 370.1 L396.09 370.3 L397.39 370.5 L398.70 370.7 L400.00 371.0 L401.30 371.2 L402.61 371.3 L403.91 371.5 L405.22 371.7 L406.52 371.8 L407.83 372.0 L409.13 372.1 L410.43 372.1 L411.74 372.2 L413.04 372.2 L414.35 372.2 L415.65 372.2 L416.96 372.2 L418.26 372.2 L419.57 372.2 L420.87 372.2 L422.17 372.2 L423.48 372.2 L424.78 372.2 L426.09 372.2 L427.39 372.2 L428.70 372.2 L430.00 372.1 L431.30 372.1 L432.61 372.0 L433.91 371.9 L435.22 371.8 L436.52 371.7 L437.83 371.6 L439.13 371.5 L440.43 371.3 L441.74 371.2 L443.04 371.1 L444.35 370.9 L445.65 370.6 L446.96 370.3 L448.26 370.0 L449.57 369.6 L450.87 369.1 L452.17 368.6 L453.48 368.0 L454.78 367.4 L456.09 366.8 L457.39 366.2 L458.70 365.5 L460.00 364.8 L461.30 364.1 L462.61 363.5 L463.91 362.8 L465.22 362.0 L466.52 361.3 L467.83 360.4 L469.13 359.6 L470.43 358.6 L471.74 357.7 L473.04 356.6 L474.35 355.6 L475.65 354.4 L476.96 353.2 L478.26 352.0 L479.57 350.6 L480.87 349.1 L482.17 347.5 L483.48 345.8 L484.78 344.0 L486.09 342.1 L487.39 340.2 L488.70 338.1 L490.00 336.0 L491.30 333.7 L492.61 331.2 L493.91 328.6 L495.22 325.8 L496.52 323.0 L497.83 320.2 L499.13 317.4 L500.43 314.5 L501.74 311.5 L503.04 308.5 L504.35 305.4 L505.65 302.4 L506.96 299.3 L508.26 296.3 L509.57 293.3 L510.87 290.4 L512.17 287.4 L513.48 284.4 L514.78 281.3 L516.09 278.0 L517.39 274.6 L518.70 271.0 L520.00 266.9 L521.30 262.0 L522.61 256.5 L523.91 250.9 L525.22 245.5 L526.52 240.7 L527.83 236.9 L529.13 234.2 L530.43 232.0 L531.74 229.9 L533.04 228.0 L534.35 226.4 L535.65 225.1 L536.96 224.3 L538.26 224.0 L539.57 224.5 L540.87 225.7 L542.17 227.5 L543.48 229.7 L544.78 232.0 L546.09 234.4 L547.39 236.9 L548.70 239.9 L550.00 243.3 L551.30 246.9 L552.61 250.6 L553.91 254.2 L555.22 257.6 L556.52 260.6 L557.83 263.4 L559.13 266.2 L560.43 268.9 L561.74 271.5 L563.04 273.9 L564.35 276.0 L565.65 277.9 L566.96 279.4 L568.26 280.8 L569.57 282.2 L570.87 283.4 L572.17 284.5 L573.48 285.5 L574.78 286.2 L576.09 286.7 L577.39 287.0 L578.70 287.2 L580.00 287.4 L581.30 287.5 L582.61 287.5 L583.91 287.3 L585.22 286.9 L586.52 286.3 L587.83 285.6 L589.13 284.7 L590.43 283.8 L591.74 282.8 L593.04 281.8 L594.35 280.6 L595.65 279.3 L596.96 277.7 L598.26 276.0 L599.57 274.3 L600.87 272.4 L602.17 270.5 L603.48 268.6 L604.78 266.8 L606.09 264.9 L607.39 262.9 L608.70 260.8 L610.00 258.7 L611.30 256.6 L612.61 254.4 L613.91 252.2 L615.22 250.0 L616.52 247.7 L617.83 245.5 L619.13 243.3 L620.43 241.0 L621.74 238.8 L623.04 236.6 L624.35 234.3 L625.65 232.1 L626.96 229.7 L628.26 227.4 L629.57 224.9 L630.87 222.4 L632.17 219.8 L633.48 217.0 L634.78 214.2 L636.09 211.3 L637.39 208.2 L638.70 205.0 L640.00 201.7 L641.30 198.2 L642.61 194.5 L643.91 190.5 L645.22 186.3 L646.52 181.8 L647.83 177.3 L649.13 172.9 L650.43 168.4 L651.74 164.1" stroke="#7d14ff"/>
<path d="M97.39 303.7 L98.70 303.2 L100.00 302.8 L101.30 302.4 L102.61 301.9 L103.91 301.5 L105.22 301.0 L106.52 300.6 L107.83 300.1 L109.13 299.6 L110.43 299.1 L111.74 298.7 L113.04 298.2 L114.35 297.8 L115.65 297.3 L116.96 296.9 L118.26 296.5 L119.57 296.1 L120.87 295.8 L122.17 295.4 L123.48 295.1 L124.78 294.8 L126.09 294.6 L127.39 294.3 L128.70 294.1 L130.00 293.9 L131.30 293.7 L132.61 293.5 L133.91 293.3 L135.22 293.2 L136.52 293.0 L137.83 292.8 L139.13 292.7 L140.43 292.5 L141.74 292.3 L143.04 292.2 L144.35 292.0 L145.65 291.8 L146.96 291.6 L148.26 291.5 L149.57 291.3 L150.87 291.1 L152.17 291.0 L153.48 290.8 L154.78 290.7 L156.09 290.5 L157.39 290.4 L158.70 290.2 L160.00 290.1 L161.30 289.9 L162.61 289.8 L163.91 289.6 L165.22 289.5 L166.52 289.3 L167.83 289.2 L169.13 289.0 L170.43 288.9 L171.74 288.7 L173.04 288.6 L174.35 288.4 L175.65 288.2 L176.96 288.1 L178.26 287.9 L179.57 287.7 L180.87 287.5 L182.17 287.4 L183.48 287.2 L184.78 287.0 L186.09 286.8 L187.39 286.5 L188.70 286.3 L190.00 286.1 L191.30 285.9 L192.61 285.6 L193.91 285.4 L195.22 285.1 L196.52 284.8 L197.83 284.6 L199.13 284.2 L200.43 283.7 L201.74 283.2 L203.04 282.6 L204.35 281.9 L205.65 281.3 L206.96 280.7 L208.26 280.2 L209.57 279.7 L210.87 279.3 L212.17 279.1 L213.48 279.0 L214.78 279.0 L216.09 279.0 L217.39 279.0 L218.70 279.0 L220.00 279.0 L221.30 279.0 L222.61 279.0 L223.91 279.0 L225.22 279.0 L226.52 279.2 L227.83 279.4 L229.13 279.7 L230.43 280.0 L231.74 280.4 L233.04 280.8 L234.35 281.2 L235.65 281.7 L236.96 282.2 L238.26 282.6 L239.57 283.1 L240.87 283.5 L242.17 283.9 L243.48 284.3 L244.78 284.6 L246.09 284.9 L247.39 285.2 L248.70 285.5 L250.00 285.8 L251.30 286.1 L252.61 286.4 L253.91 286.7 L255.22 287.0 L256.52 287.4 L257.83 287.8 L259.13 288.3 L260.43 289.0 L261.74 289.8 L263.04 290.7 L264.35 291.6 L265.65 292.6 L266.96 293.6 L268.26 294.5 L269.57 295.3 L270.87 296.1 L272.17 296.7 L273.48 297.1 L274.78 297.5 L276.09 297.9 L277.39 298.3 L278.70 298.6 L280.00 298.8 L281.30 299.0 L282.61 299.0 L283.91 298.9 L285.22 298.7 L286.52 298.4 L287.83 298.1 L289.13 297.7 L290.43 297.4 L291.74 297.2 L293.04 297.0 L294.35 297.0 L295.65 297.4 L296.96 298.0 L298.26 298.8 L299.57 299.8 L300.87 300.8 L302.17 301.9 L303.48 303.4 L304.78 305.0 L306.09 306.8 L307.39 308.7 L308.70 310.6 L310.00 312.4 L311.30 314.0 L312.61 315.4 L313.91 316.6 L315.22 317.8 L316.52 318.9 L317.83 319.9 L319.13 320.9 L320.43 321.9 L321.74 322.8 L323.04 323.7 L324.35 324.7 L325.65 325.7 L326.96 326.6 L328.26 327.6 L329.57 328.5 L330.87 329.5 L332.17 330.4 L333.48 331.4 L334.78 332.3 L336.09 333.2 L337.39 334.1 L338.70 335.0 L340.00 335.8 L341.30 336.6 L342.61 337.4 L343.91 338.2 L345.22 338.9 L346.52 339.7 L347.83 340.4 L349.13 341.1 L350.43 341.9 L351.74 342.6 L353.04 343.3 L354.35 344.0 L355.65 344.6 L356.96 345.3 L358.26 345.9 L359.57 346.6 L360.87 347.2 L362.17 347.7 L363.48 348.3 L364.78 348.8 L366.09 349.3 L367.39 349.8 L368.70 350.2 L370.00 350.6 L371.30 351.0 L372.61 351.4 L373.91 351.8 L375.22 352.1 L376.52 352.5 L377.83 352.8 L379.13 353.2 L380.43 353.5 L381.74 353.8 L383.04 354.1 L384.35 354.4 L385.65 354.6 L386.96 354.9 L388.26 355.2 L389.57 355.4 L390.87 355.6 L392.17 355.9 L393.48 356.1 L394.78 356.3 L396.09 356.6 L397.39 356.8 L398.70 357.0 L400.00 357.3 L401.30 357.5 L402.61 357.7 L403.91 357.9 L405.22 358.1 L406.52 358.3 L407.83 358.4 L409.13 358.5 L410.43 358.6 L411.74 358.7 L413.04 358.7 L414.35 358.7 L415.65 358.7 L416.96 358.7 L418.26 358.7 L419.57 358.7 L420.87 358.7 L422.17 358.7 L423.48 358.7 L424.78 358.7 L426.09 358.7 L427.39 358.7 L428.70 358.6 L430.00 358.4 L431.30 358.2 L432.61 358.0 L433.91 357.7 L435.22 357.4 L436.52 357.2 L437.83 356.9 L439.13 356.6 L440.43 356.3 L441.74 356.0 L443.04 355.6 L444.35 355.2 L445.65 354.8 L446.96 354.4 L448.26 354.0 L449.57 353.5 L450.87 353.0 L452.17 352.5 L453.48 352.0 L454.78 351.4 L456.09 350.9 L457.39 350.3 L458.70 349.7 L460.00 349.1 L461.30 348.4 L462.61 347.7 L463.91 346.9 L465.22 346.1 L466.52 345.3 L467.83 344.4 L469.13 343.5 L470.43 342.5 L471.74 341.5 L473.04 340.4 L474.35 339.3 L475.65 338.0 L476.96 336.6 L478.26 335.2 L479.57 333.6 L480.87 331.9 L482.17 330.1 L483.48 328.3 L484.78 326.3 L486.09 324.3 L487.39 322.0 L488.70 319.6 L490.00 316.9 L491.30 314.1 L492.61 311.3 L493.91 308.5 L495.22 305.7 L496.52 302.8 L497.83 299.8 L499.13 296.8 L500.43 293.7 L501.74 290.4 L503.04 287.1 L504.35 283.8 L505.65 280.4 L506.96 277.0 L508.26 273.4 L509.57 269.8 L510.87 266.0 L512.17 262.1 L513.48 258.0 L514.78 253.7 L516.09 248.9 L517.39 243.3 L518.70 237.4 L520.00 231.5 L521.30 225.9 L522.61 220.8 L523.91 216.7 L525.22 213.4 L526.52 210.4 L527.83 207.7 L529.13 205.2 L530.43 202.9 L531.74 200.7 L533.04 198.7 L534.35 196.7 L535.65 194.5 L536.96 192.6 L538.26 191.3 L539.57 191.0 L540.87 191.6 L542.17 192.7 L543.48 194.3 L544.78 196.1 L546.09 198.2 L547.39 200.3 L548.70 202.6 L550.00 205.5 L551.30 209.0 L552.61 212.8 L553.91 216.8 L555.22 220.7 L556.52 224.4 L557.83 227.8 L559.13 231.2 L560.43 234.7 L561.74 238.2 L563.04 241.5 L564.35 244.5 L565.65 247.3 L566.96 249.7 L568.26 252.1 L569.57 254.4 L570.87 256.6 L572.17 258.8 L573.48 260.7 L574.78 262.4 L576.09 263.8 L577.39 264.8 L578.70 265.4 L580.00 265.8 L581.30 266.2 L582.61 266.5 L583.91 266.7 L585.22 266.7 L586.52 266.4 L587.83 266.0 L589.13 265.4 L590.43 264.8 L591.74 264.0 L593.04 263.3 L594.35 262.2 L595.65 260.9 L596.96 259.4 L598.26 257.7 L599.57 255.9 L600.87 254.0 L602.17 252.0 L603.48 250.2 L604.78 248.4 L606.09 246.6 L607.39 244.7 L608.70 242.9 L610.00 241.0 L611.30 239.0 L612.61 237.1 L613.91 235.1 L615.22 233.1 L616.52 231.1 L617.83 229.1 L619.13 227.1 L620.43 225.1 L621.74 223.1 L623.04 221.1 L624.35 219.1 L625.65 217.0 L626.96 214.9 L628.26 212.7 L629.57 210.5 L630.87 208.3 L632.17 206.1 L633.48 203.8 L634.78 201.4 L636.09 199.0 L637.39 196.6 L638.70 194.0 L640.00 191.3 L641.30 188.5 L642.61 185.5 L643.91 182.3 L645.22 179.0 L646.52 175.5 L647.83 172.0 L649.13 168.5 L650.43 165.1 L651.74 161.8" stroke="#000000"/>
<path d="M97.39 285.9 L98.70 285.5 L100.00 285.2 L101.30 284.8 L102.61 284.4 L103.91 284.1 L105.22 283.7 L106.52 283.3 L107.83 283.0 L109.13 282.6 L110.43 282.2 L111.74 281.8 L113.04 281.4 L114.35 281.1 L115.65 280.7 L116.96 280.3 L118.26 279.9 L119.57 279.5 L120.87 279.2 L122.17 278.8 L123.48 278.4 L124.78 278.0 L126.09 277.7 L127.39 277.3 L128.70 277.0 L130.00 276.6 L131.30 276.2 L132.61 275.9 L133.91 275.6 L135.22 275.2 L136.52 274.9 L137.83 274.6 L139.13 274.3 L140.43 274.0 L141.74 273.7 L143.04 273.4 L144.35 273.1 L145.65 272.8 L146.96 272.5 L148.26 272.3 L149.57 272.0 L150.87 271.8 L152.17 271.6 L153.48 271.4 L154.78 271.2 L156.09 270.9 L157.39 270.7 L158.70 270.5 L160.00 270.4 L161.30 270.2 L162.61 270.0 L163.91 269.8 L165.22 269.6 L166.52 269.4 L167.83 269.3 L169.13 269.1 L170.43 268.9 L171.74 268.7 L173.04 268.6 L174.35 268.4 L175.65 268.2 L176.96 268.0 L178.26 267.8 L179.57 267.6 L180.87 267.4 L182.17 267.2 L183.48 267.0 L184.78 266.8 L186.09 266.5 L187.39 266.3 L188.70 266.1 L190.00 265.8 L191.30 265.5 L192.61 265.3 L193.91 265.0 L195.22 264.7 L196.52 264.4 L197.83 264.0 L199.13 263.6 L200.43 263.1 L201.74 262.5 L203.04 261.9 L204.35 261.2 L205.65 260.6 L206.96 259.9 L208.26 259.3 L209.57 258.7 L210.87 258.2 L212.17 257.7 L213.48 257.4 L214.78 257.2 L216.09 257.2 L217.39 257.2 L218.70 257.2 L220.00 257.2 L221.30 257.2 L222.61 257.2 L223.91 257.2 L225.22 257.2 L226.52 257.2 L227.83 257.2 L229.13 257.2 L230.43 257.2 L231.74 257.2 L233.04 257.2 L234.35 257.4 L235.65 257.7 L236.96 258.1 L238.26 258.6 L239.57 259.1 L240.87 259.6 L242.17 260.0 L243.48 260.4 L244.78 260.7 L246.09 261.1 L247.39 261.3 L248.70 261.6 L250.00 261.9 L251.30 262.2 L252.61 262.5 L253.91 262.8 L255.22 263.1 L256.52 263.4 L257.83 263.8 L259.13 264.2 L260.43 264.6 L261.74 265.1 L263.04 265.8 L264.35 266.7 L265.65 267.7 L266.96 268.7 L268.26 269.7 L269.57 270.6 L270.87 271.2 L272.17 271.8 L273.48 272.4 L274.78 273.0 L276.09 273.6 L277.39 274.1 L278.70 274.5 L280.00 274.8 L281.30 275.0 L282.61 275.0 L283.91 274.9 L285.22 274.8 L286.52 274.6 L287.83 274.4 L289.13 274.2 L290.43 274.0 L291.74 273.8 L293.04 273.7 L294.35 273.7 L295.65 273.7 L296.96 273.7 L298.26 273.7 L299.57 273.7 L300.87 273.7 L302.17 273.7 L303.48 274.4 L304.78 275.7 L306.09 277.4 L307.39 279.3 L308.70 281.3 L310.00 283.0 L311.30 284.7 L312.61 286.4 L313.91 288.2 L315.22 290.1 L316.52 291.8 L317.83 293.5 L319.13 295.0 L320.43 296.4 L321.74 297.7 L323.04 298.9 L324.35 300.1 L325.65 301.3 L326.96 302.4 L328.26 303.5 L329.57 304.6 L330.87 305.7 L332.17 306.7 L333.48 307.7 L334.78 308.7 L336.09 309.7 L337.39 310.7 L338.70 311.7 L340.00 312.7 L341.30 313.6 L342.61 314.6 L343.91 315.5 L345.22 316.5 L346.52 317.4 L347.83 318.3 L349.13 319.2 L350.43 320.0 L351.74 320.9 L353.04 321.7 L354.35 322.5 L355.65 323.2 L356.96 324.0 L358.26 324.7 L359.57 325.3 L360.87 326.0 L362.17 326.6 L363.48 327.2 L364.78 327.8 L366.09 328.4 L367.39 328.9 L368.70 329.5 L370.00 330.0 L371.30 330.5 L372.61 331.0 L373.91 331.5 L375.22 332.0 L376.52 332.5 L377.83 332.9 L379.13 333.3 L380.43 333.7 L381.74 334.1 L383.04 334.5 L384.35 334.9 L385.65 335.2 L386.96 335.5 L388.26 335.9 L389.57 336.2 L390.87 336.6 L392.17 336.9 L393.48 337.2 L394.78 337.5 L396.09 337.8 L397.39 338.1 L398.70 338.4 L400.00 338.6 L401.30 338.9 L402.61 339.1 L403.91 339.3 L405.22 339.4 L406.52 339.6 L407.83 339.7 L409.13 339.8 L410.43 339.9 L411.74 340.0 L413.04 340.1 L414.35 340.1 L415.65 340.2 L416.96 340.3 L418.26 340.3 L419.57 340.4 L420.87 340.4 L422.17 340.5 L423.48 340.5 L424.78 340.5 L426.09 340.5 L427.39 340.5 L428.70 340.5 L430.00 340.5 L431.30 340.4 L432.61 340.4 L433.91 340.3 L435.22 340.3 L436.52 340.2 L437.83 340.2 L439.13 340.1 L440.43 340.0 L441.74 339.9 L443.04 339.8 L444.35 339.7 L445.65 339.6 L446.96 339.4 L448.26 339.2 L449.57 338.9 L450.87 338.6 L452.17 338.2 L453.48 337.8 L454.78 337.4 L456.09 337.0 L457.39 336.5 L458.70 336.0 L460.00 335.5 L461.30 335.0 L462.61 334.4 L463.91 333.9 L465.22 333.3 L466.52 332.5 L467.83 331.7 L469.13 330.9 L470.43 329.9 L471.74 328.9 L473.04 327.8 L474.35 326.7 L475.65 325.5 L476.96 324.3 L478.26 323.1 L479.57 321.7 L480.87 320.2 L482.17 318.6 L483.48 316.9 L484.78 315.2 L486.09 313.3 L487.39 311.4 L488.70 309.5 L490.00 307.4 L491.30 305.1 L492.61 302.8 L493.91 300.5 L495.22 298.2 L496.52 296.0 L497.83 294.1 L499.13 292.1 L500.43 289.9 L501.74 287.1 L503.04 283.4 L504.35 279.0 L505.65 274.1 L506.96 269.0 L508.26 263.7 L509.57 258.7 L510.87 253.9 L512.17 249.0 L513.48 244.1 L514.78 239.1 L516.09 234.1 L517.39 229.2 L518.70 224.4 L520.00 219.7 L521.30 215.2 L522.61 211.0 L523.91 206.8 L525.22 202.7 L526.52 198.7 L527.83 194.9 L529.13 191.1 L530.43 187.5 L531.74 184.1 L533.04 180.7 L534.35 177.0 L535.65 173.1 L536.96 169.5 L538.26 166.3 L539.57 164.0 L540.87 162.7 L542.17 162.7 L543.48 163.7 L544.78 165.6 L546.09 168.1 L547.39 171.0 L548.70 174.0 L550.00 177.0 L551.30 180.2 L552.61 183.9 L553.91 188.0 L555.22 192.2 L556.52 196.5 L557.83 200.7 L559.13 204.6 L560.43 208.7 L561.74 212.9 L563.04 216.9 L564.35 220.7 L565.65 224.2 L566.96 227.2 L568.26 230.0 L569.57 232.7 L570.87 235.3 L572.17 237.7 L573.48 239.9 L574.78 241.8 L576.09 243.5 L577.39 245.0 L578.70 246.4 L580.00 247.9 L581.30 249.2 L582.61 250.3 L583.91 251.2 L585.22 251.8 L586.52 252.0 L587.83 252.0 L589.13 251.9 L590.43 251.7 L591.74 251.5 L593.04 251.3 L594.35 250.8 L595.65 250.1 L596.96 249.2 L598.26 248.1 L599.57 246.9 L600.87 245.6 L602.17 244.2 L603.48 242.9 L604.78 241.5 L606.09 240.1 L607.39 238.6 L608.70 236.9 L610.00 235.2 L611.30 233.3 L612.61 231.4 L613.91 229.5 L615.22 227.5 L616.52 225.4 L617.83 223.4 L619.13 221.3 L620.43 219.2 L621.74 217.1 L623.04 214.9 L624.35 212.6 L625.65 210.3 L626.96 208.0 L628.26 205.5 L629.57 203.0 L630.87 200.4 L632.17 197.8 L633.48 195.0 L634.78 192.2 L636.09 189.3 L637.39 186.3 L638.70 183.2 L640.00 179.9 L641.30 176.5 L642.61 173.0 L643.91 169.2 L645.22 165.3 L646.52 160.9 L647.83 156.1 L649.13 151.1 L650.43 146.1 L651.74 141.3" stroke="#dd0000"/>
<path d="M97.39 266.8 L98.70 266.4 L100.00 266.0 L101.30 265.7 L102.61 265.3 L103.91 264.9 L105.22 264.5 L106.52 264.1 L107.83 263.6 L109.13 263.2 L110.43 262.8 L111.74 262.4 L113.04 262.0 L114.35 261.6 L115.65 261.2 L116.96 260.8 L118.26 260.4 L119.57 259.9 L120.87 259.5 L122.17 259.1 L123.48 258.7 L124.78 258.3 L126.09 257.9 L127.39 257.5 L128.70 257.1 L130.00 256.8 L131.30 256.4 L132.61 256.0 L133.91 255.6 L135.22 255.3 L136.52 254.9 L137.83 254.5 L139.13 254.2 L140.43 253.9 L141.74 253.5 L143.04 253.2 L144.35 252.9 L145.65 252.6 L146.96 252.3 L148.26 252.0 L149.57 251.7 L150.87 251.5 L152.17 251.2 L153.48 251.0 L154.78 250.7 L156.09 250.5 L157.39 250.2 L158.70 250.0 L160.00 249.8 L161.30 249.5 L162.61 249.3 L163.91 249.1 L165.22 248.9 L166.52 248.7 L167.83 248.5 L169.13 248.2 L170.43 248.0 L171.74 247.8 L173.04 247.6 L174.35 247.4 L175.65 247.2 L176.96 247.0 L178.26 246.7 L179.57 246.5 L180.87 246.3 L182.17 246.0 L183.48 245.8 L184.78 245.6 L186.09 245.3 L187.39 245.1 L188.70 244.8 L190.00 244.5 L191.30 244.3 L192.61 244.0 L193.91 243.7 L195.22 243.4 L196.52 243.1 L197.83 242.7 L199.13 242.4 L200.43 241.9 L201.74 241.4 L203.04 240.9 L204.35 240.3 L205.65 239.7 L206.96 239.2 L208.26 238.7 L209.57 238.2 L210.87 237.8 L212.17 237.4 L213.48 237.2 L214.78 237.0 L216.09 237.0 L217.39 237.0 L218.70 237.0 L220.00 237.0 L221.30 237.0 L222.61 237.0 L223.91 237.0 L225.22 237.0 L226.52 237.0 L227.83 237.0 L229.13 237.0 L230.43 237.0 L231.74 237.0 L233.04 237.1 L234.35 237.3 L235.65 237.8 L236.96 238.3 L238.26 238.9 L239.57 239.5 L240.87 239.9 L242.17 240.3 L243.48 240.4 L244.78 240.4 L246.09 240.4 L247.39 240.4 L248.70 240.4 L250.00 240.4 L251.30 240.4 L252.61 240.4 L253.91 240.4 L255.22 240.4 L256.52 240.4 L257.83 240.4 L259.13 240.4 L260.43 240.7 L261.74 241.6 L263.04 242.9 L264.35 244.4 L265.65 245.9 L266.96 247.3 L268.26 248.3 L269.57 249.2 L270.87 250.0 L272.17 250.9 L273.48 251.7 L274.78 252.5 L276.09 253.2 L277.39 253.8 L278.70 254.3 L280.00 254.7 L281.30 254.9 L282.61 255.0 L283.91 254.7 L285.22 254.1 L286.52 253.4 L287.83 252.7 L289.13 252.1 L290.43 251.7 L291.74 251.6 L293.04 251.6 L294.35 251.6 L295.65 251.6 L296.96 251.6 L298.26 251.6 L299.57 251.6 L300.87 251.6 L302.17 252.1 L303.48 253.6 L304.78 255.5 L306.09 257.7 L307.39 259.8 L308.70 261.6 L310.00 263.4 L311.30 265.4 L312.61 267.3 L313.91 269.3 L315.22 271.2 L316.52 273.0 L317.83 274.7 L319.13 276.3 L320.43 277.8 L321.74 279.2 L323.04 280.5 L324.35 281.8 L325.65 283.0 L326.96 284.2 L328.26 285.4 L329.57 286.6 L330.87 287.7 L332.17 288.8 L333.48 289.9 L334.78 291.0 L336.09 292.2 L337.39 293.3 L338.70 294.4 L340.00 295.5 L341.30 296.6 L342.61 297.7 L343.91 298.7 L345.22 299.7 L346.52 300.8 L347.83 301.7 L349.13 302.7 L350.43 303.6 L351.74 304.4 L353.04 305.2 L354.35 306.0 L355.65 306.7 L356.96 307.4 L358.26 308.1 L359.57 308.8 L360.87 309.5 L362.17 310.1 L363.48 310.7 L364.78 311.3 L366.09 311.9 L367.39 312.5 L368.70 313.1 L370.00 313.7 L371.30 314.2 L372.61 314.7 L373.91 315.2 L375.22 315.7 L376.52 316.2 L377.83 316.7 L379.13 317.1 L380.43 317.6 L381.74 318.0 L383.04 318.4 L384.35 318.8 L385.65 319.2 L386.96 319.6 L388.26 320.0 L389.57 320.4 L390.87 320.8 L392.17 321.1 L393.48 321.5 L394.78 321.8 L396.09 322.2 L397.39 322.5 L398.70 322.8 L400.00 323.1 L401.30 323.4 L402.61 323.6 L403.91 323.9 L405.22 324.1 L406.52 324.3 L407.83 324.5 L409.13 324.7 L410.43 324.9 L411.74 325.1 L413.04 325.2 L414.35 325.4 L415.65 325.6 L416.96 325.7 L418.26 325.9 L419.57 326.0 L420.87 326.1 L422.17 326.2 L423.48 326.2 L424.78 326.3 L426.09 326.3 L427.39 326.3 L428.70 326.3 L430.00 326.3 L431.30 326.2 L432.61 326.2 L433.91 326.1 L435.22 326.1 L436.52 326.0 L437.83 325.9 L439.13 325.9 L440.43 325.8 L441.74 325.7 L443.04 325.6 L444.35 325.5 L445.65 325.4 L446.96 325.3 L448.26 325.1 L449.57 324.9 L450.87 324.6 L452.17 324.3 L453.48 323.8 L454.78 323.3 L456.09 322.8 L457.39 322.2 L458.70 321.6 L460.00 320.9 L461.30 320.2 L462.61 319.5 L463.91 318.8 L465.22 318.0 L466.52 317.3 L467.83 316.4 L469.13 315.4 L470.43 314.4 L471.74 313.3 L473.04 312.1 L474.35 310.8 L475.65 309.5 L476.96 308.2 L478.26 306.9 L479.57 305.5 L480.87 304.1 L482.17 302.6 L483.48 301.0 L484.78 299.2 L486.09 297.4 L487.39 295.3 L488.70 293.0 L490.00 290.4 L491.30 287.4 L492.61 284.1 L493.91 280.6 L495.22 276.9 L496.52 273.1 L497.83 269.3 L499.13 265.4 L500.43 261.3 L501.74 257.0 L503.04 252.4 L504.35 247.7 L505.65 243.0 L506.96 238.2 L508.26 233.6 L509.57 229.0 L510.87 224.7 L512.17 220.5 L513.48 216.5 L514.78 212.5 L516.09 208.5 L517.39 204.5 L518.70 200.3 L520.00 196.0 L521.30 191.6 L522.61 186.7 L523.91 181.5 L525.22 176.0 L526.52 170.6 L527.83 165.3 L529.13 160.4 L530.43 155.2 L531.74 150.1 L533.04 145.8 L534.35 143.0 L535.65 141.2 L536.96 139.7 L538.26 138.6 L539.57 138.0 L540.87 138.2 L542.17 139.4 L543.48 141.3 L544.78 143.6 L546.09 146.2 L547.39 149.0 L548.70 152.9 L550.00 157.7 L551.30 163.0 L552.61 168.6 L553.91 174.0 L555.22 178.9 L556.52 183.1 L557.83 186.8 L559.13 190.4 L560.43 193.8 L561.74 197.0 L563.04 200.1 L564.35 202.9 L565.65 205.6 L566.96 208.1 L568.26 210.5 L569.57 212.7 L570.87 214.8 L572.17 216.9 L573.48 218.8 L574.78 220.6 L576.09 222.4 L577.39 224.2 L578.70 226.2 L580.00 228.2 L581.30 230.2 L582.61 232.0 L583.91 233.4 L585.22 234.4 L586.52 234.7 L587.83 234.7 L589.13 234.7 L590.43 234.7 L591.74 234.7 L593.04 234.7 L594.35 234.4 L595.65 233.8 L596.96 232.9 L598.26 231.8 L599.57 230.6 L600.87 229.3 L602.17 228.0 L603.48 226.6 L604.78 225.3 L606.09 224.0 L607.39 222.5 L608.70 220.8 L610.00 219.1 L611.30 217.3 L612.61 215.4 L613.91 213.5 L615.22 211.5 L616.52 209.4 L617.83 207.4 L619.13 205.3 L620.43 203.2 L621.74 201.0 L623.04 198.8 L624.35 196.5 L625.65 194.1 L626.96 191.7 L628.26 189.2 L629.57 186.7 L630.87 184.2 L632.17 181.5 L633.48 178.9 L634.78 176.2 L636.09 173.5 L637.39 170.8 L638.70 167.9 L640.00 165.0 L641.30 161.9 L642.61 158.6 L643.91 155.2 L645.22 151.5 L646.52 147.2 L647.83 142.4 L649.13 137.5 L650.43 132.6 L651.74 127.9" stroke="#0000f8"/>
<path d="M97.39 248.6 L98.70 248.2 L100.00 247.9 L101.30 247.5 L102.61 247.1 L103.91 246.7 L105.22 246.3 L106.52 245.9 L107.83 245.5 L109.13 245.1 L110.43 244.7 L111.74 244.4 L113.04 244.0 L114.35 243.6 L115.65 243.2 L116.96 242.8 L118.26 242.4 L119.57 242.0 L120.87 241.6 L122.17 241.2 L123.48 240.8 L124.78 240.4 L126.09 240.0 L127.39 239.6 L128.70 239.3 L130.00 238.9 L131.30 238.5 L132.61 238.1 L133.91 237.8 L135.22 237.4 L136.52 237.1 L137.83 236.7 L139.13 236.4 L140.43 236.1 L141.74 235.7 L143.04 235.4 L144.35 235.1 L145.65 234.8 L146.96 234.5 L148.26 234.2 L149.57 234.0 L150.87 233.7 L152.17 233.4 L153.48 233.2 L154.78 232.9 L156.09 232.7 L157.39 232.5 L158.70 232.3 L160.00 232.0 L161.30 231.8 L162.61 231.6 L163.91 231.4 L165.22 231.2 L166.52 231.0 L167.83 230.8 L169.13 230.6 L170.43 230.4 L171.74 230.1 L173.04 229.9 L174.35 229.7 L175.65 229.5 L176.96 229.3 L178.26 229.1 L179.57 228.8 L180.87 228.6 L182.17 228.4 L183.48 228.1 L184.78 227.9 L186.09 227.6 L187.39 227.3 L188.70 227.0 L190.00 226.7 L191.30 226.4 L192.61 226.1 L193.91 225.8 L195.22 225.5 L196.52 225.1 L197.83 224.7 L199.13 224.3 L200.43 223.8 L201.74 223.2 L203.04 222.5 L204.35 221.9 L205.65 221.2 L206.96 220.5 L208.26 219.8 L209.57 219.2 L210.87 218.6 L212.17 218.0 L213.48 217.6 L214.78 217.2 L216.09 216.9 L217.39 216.7 L218.70 216.4 L220.00 216.2 L221.30 216.0 L222.61 215.8 L223.91 215.7 L225.22 215.7 L226.52 215.8 L227.83 216.1 L229.13 216.5 L230.43 217.0 L231.74 217.5 L233.04 218.1 L234.35 218.6 L235.65 219.1 L236.96 219.4 L238.26 219.7 L239.57 219.7 L240.87 219.7 L242.17 219.7 L243.48 219.7 L244.78 219.7 L246.09 219.7 L247.39 219.7 L248.70 219.7 L250.00 219.6 L251.30 219.4 L252.61 219.1 L253.91 218.8 L255.22 218.5 L256.52 218.2 L257.83 218.0 L259.13 217.8 L260.43 217.8 L261.74 218.3 L263.04 219.3 L264.35 220.6 L265.65 221.9 L266.96 223.3 L268.26 224.4 L269.57 225.5 L270.87 226.6 L272.17 227.8 L273.48 228.9 L274.78 230.0 L276.09 231.0 L277.39 231.7 L278.70 232.2 L280.00 232.4 L281.30 232.4 L282.61 232.4 L283.91 232.4 L285.22 232.4 L286.52 232.4 L287.83 232.3 L289.13 231.6 L290.43 230.7 L291.74 229.8 L293.04 229.1 L294.35 229.0 L295.65 229.1 L296.96 229.2 L298.26 229.3 L299.57 229.5 L300.87 229.8 L302.17 230.6 L303.48 232.1 L304.78 234.1 L306.09 236.3 L307.39 238.4 L308.70 240.2 L310.00 242.1 L311.30 244.0 L312.61 246.0 L313.91 247.9 L315.22 249.8 L316.52 251.7 L317.83 253.4 L319.13 255.0 L320.43 256.5 L321.74 258.0 L323.04 259.4 L324.35 260.7 L325.65 262.1 L326.96 263.4 L328.26 264.7 L329.57 265.9 L330.87 267.1 L332.17 268.3 L333.48 269.5 L334.78 270.6 L336.09 271.7 L337.39 272.8 L338.70 273.9 L340.00 275.0 L341.30 276.1 L342.61 277.1 L343.91 278.1 L345.22 279.2 L346.52 280.2 L347.83 281.2 L349.13 282.2 L350.43 283.2 L351.74 284.1 L353.04 285.1 L354.35 286.0 L355.65 286.9 L356.96 287.8 L358.26 288.7 L359.57 289.5 L360.87 290.4 L362.17 291.2 L363.48 292.0 L364.78 292.7 L366.09 293.5 L367.39 294.2 L368.70 294.9 L370.00 295.5 L371.30 296.2 L372.61 296.8 L373.91 297.4 L375.22 298.0 L376.52 298.6 L377.83 299.2 L379.13 299.7 L380.43 300.3 L381.74 300.8 L383.04 301.4 L384.35 301.9 L385.65 302.4 L386.96 302.9 L388.26 303.3 L389.57 303.8 L390.87 304.3 L392.17 304.7 L393.48 305.2 L394.78 305.6 L396.09 306.1 L397.39 306.5 L398.70 307.0 L400.00 307.4 L401.30 307.8 L402.61 308.2 L403.91 308.5 L405.22 308.9 L406.52 309.2 L407.83 309.5 L409.13 309.7 L410.43 310.0 L411.74 310.2 L413.04 310.5 L414.35 310.7 L415.65 310.9 L416.96 311.2 L418.26 311.4 L419.57 311.5 L420.87 311.7 L422.17 311.8 L423.48 311.9 L424.78 312.0 L426.09 312.0 L427.39 312.0 L428.70 312.0 L430.00 312.0 L431.30 312.0 L432.61 312.0 L433.91 312.0 L435.22 312.0 L436.52 312.0 L437.83 312.0 L439.13 312.0 L440.43 312.0 L441.74 312.0 L443.04 312.0 L444.35 312.0 L445.65 311.8 L446.96 311.6 L448.26 311.2 L449.57 310.8 L450.87 310.3 L452.17 309.8 L453.48 309.2 L454.78 308.5 L456.09 307.8 L457.39 307.2 L458.70 306.5 L460.00 305.8 L461.30 305.2 L462.61 304.6 L463.91 304.0 L465.22 303.4 L466.52 302.7 L467.83 302.1 L469.13 301.4 L470.43 300.6 L471.74 299.8 L473.04 299.0 L474.35 298.0 L475.65 297.0 L476.96 295.8 L478.26 294.4 L479.57 292.8 L480.87 291.0 L482.17 289.0 L483.48 286.8 L484.78 284.2 L486.09 281.4 L487.39 278.2 L488.70 274.9 L490.00 271.5 L491.30 267.9 L492.61 264.3 L493.91 260.5 L495.22 256.5 L496.52 252.3 L497.83 248.0 L499.13 243.6 L500.43 239.2 L501.74 234.8 L503.04 230.4 L504.35 226.0 L505.65 221.7 L506.96 217.4 L508.26 213.0 L509.57 208.5 L510.87 204.1 L512.17 199.5 L513.48 194.8 L514.78 190.0 L516.09 185.0 L517.39 179.6 L518.70 174.2 L520.00 168.7 L521.30 163.3 L522.61 158.2 L523.91 153.4 L525.22 148.8 L526.52 144.2 L527.83 139.7 L529.13 135.5 L530.43 131.7 L531.74 128.3 L533.04 125.2 L534.35 122.0 L535.65 118.9 L536.96 116.2 L538.26 114.0 L539.57 112.8 L540.87 112.6 L542.17 113.4 L543.48 115.0 L544.78 117.3 L546.09 120.0 L547.39 123.0 L548.70 126.0 L550.00 129.6 L551.30 134.3 L552.61 139.8 L553.91 145.7 L555.22 151.6 L556.52 157.3 L557.83 162.5 L559.13 166.9 L560.43 171.2 L561.74 175.3 L563.04 179.3 L564.35 183.1 L565.65 186.7 L566.96 190.2 L568.26 193.6 L569.57 196.8 L570.87 200.2 L572.17 203.5 L573.48 206.6 L574.78 209.5 L576.09 211.9 L577.39 214.0 L578.70 215.4 L580.00 216.8 L581.30 218.0 L582.61 219.2 L583.91 220.2 L585.22 221.2 L586.52 221.9 L587.83 222.5 L589.13 222.9 L590.43 223.0 L591.74 222.9 L593.04 222.4 L594.35 221.8 L595.65 221.0 L596.96 220.1 L598.26 219.1 L599.57 218.1 L600.87 217.1 L602.17 216.0 L603.48 214.8 L604.78 213.4 L606.09 211.9 L607.39 210.4 L608.70 208.7 L610.00 207.0 L611.30 205.3 L612.61 203.5 L613.91 201.7 L615.22 199.8 L616.52 197.9 L617.83 195.9 L619.13 193.8 L620.43 191.6 L621.74 189.4 L623.04 187.1 L624.35 184.8 L625.65 182.4 L626.96 180.0 L628.26 177.5 L629.57 174.9 L630.87 172.3 L632.17 169.6 L633.48 166.8 L634.78 164.0 L636.09 161.1 L637.39 158.1 L638.70 155.1 L640.00 152.1 L641.30 149.0 L642.61 145.7 L643.91 142.3 L645.22 138.8 L646.52 135.3 L647.83 131.7 L649.13 128.2 L650.43 124.7 L651.74 121.2" stroke="#3c7c7c"/>
<path d="M97.39 231.0 L98.70 230.5 L100.00 230.1 L101.30 229.7 L102.61 229.2 L103.91 228.7 L105.22 228.3 L106.52 227.8 L107.83 227.3 L109.13 226.9 L110.43 226.4 L111.74 225.9 L113.04 225.4 L114.35 224.9 L115.65 224.5 L116.96 224.0 L118.26 223.5 L119.57 223.0 L120.87 222.5 L122.17 222.1 L123.48 221.6 L124.78 221.1 L126.09 220.7 L127.39 220.2 L128.70 219.8 L130.00 219.3 L131.30 218.9 L132.61 218.5 L133.91 218.0 L135.22 217.6 L136.52 217.2 L137.83 216.9 L139.13 216.5 L140.43 216.1 L141.74 215.8 L143.04 215.4 L144.35 215.1 L145.65 214.8 L146.96 214.5 L148.26 214.2 L149.57 213.9 L150.87 213.7 L152.17 213.4 L153.48 213.2 L154.78 212.9 L156.09 212.7 L157.39 212.5 L158.70 212.3 L160.00 212.1 L161.30 211.9 L162.61 211.7 L163.91 211.5 L165.22 211.3 L166.52 211.1 L167.83 210.9 L169.13 210.7 L170.43 210.5 L171.74 210.3 L173.04 210.1 L174.35 209.9 L175.65 209.7 L176.96 209.5 L178.26 209.3 L179.57 209.1 L180.87 208.9 L182.17 208.7 L183.48 208.5 L184.78 208.3 L186.09 208.1 L187.39 207.8 L188.70 207.6 L190.00 207.3 L191.30 207.0 L192.61 206.8 L193.91 206.5 L195.22 206.2 L196.52 205.9 L197.83 205.5 L199.13 205.2 L200.43 204.7 L201.74 204.2 L203.04 203.7 L204.35 203.1 L205.65 202.5 L206.96 201.9 L208.26 201.4 L209.57 200.9 L210.87 200.4 L212.17 199.9 L213.48 199.6 L214.78 199.3 L216.09 199.1 L217.39 199.0 L218.70 198.9 L220.00 198.7 L221.30 198.6 L222.61 198.5 L223.91 198.4 L225.22 198.3 L226.52 198.2 L227.83 198.1 L229.13 198.0 L230.43 198.0 L231.74 197.9 L233.04 197.9 L234.35 197.9 L235.65 198.0 L236.96 198.2 L238.26 198.6 L239.57 199.0 L240.87 199.3 L242.17 199.6 L243.48 199.7 L244.78 199.6 L246.09 199.2 L247.39 198.7 L248.70 198.0 L250.00 197.4 L251.30 196.7 L252.61 196.2 L253.91 195.8 L255.22 195.7 L256.52 195.7 L257.83 195.7 L259.13 195.7 L260.43 195.7 L261.74 196.3 L263.04 197.4 L264.35 198.8 L265.65 200.1 L266.96 201.3 L268.26 202.7 L269.57 204.1 L270.87 205.7 L272.17 207.3 L273.48 208.8 L274.78 210.4 L276.09 211.8 L277.39 213.1 L278.70 214.1 L280.00 215.0 L281.30 215.7 L282.61 216.4 L283.91 217.1 L285.22 217.5 L286.52 217.8 L287.83 217.7 L289.13 217.1 L290.43 216.2 L291.74 215.3 L293.04 214.7 L294.35 214.6 L295.65 214.6 L296.96 214.6 L298.26 214.6 L299.57 214.6 L300.87 214.6 L302.17 214.6 L303.48 215.3 L304.78 216.6 L306.09 218.3 L307.39 220.1 L308.70 221.8 L310.00 223.5 L311.30 225.5 L312.61 227.6 L313.91 229.8 L315.22 231.9 L316.52 234.1 L317.83 236.0 L319.13 237.8 L320.43 239.4 L321.74 241.0 L323.04 242.5 L324.35 243.9 L325.65 245.3 L326.96 246.7 L328.26 248.1 L329.57 249.4 L330.87 250.7 L332.17 251.9 L333.48 253.1 L334.78 254.4 L336.09 255.5 L337.39 256.7 L338.70 257.9 L340.00 259.0 L341.30 260.1 L342.61 261.3 L343.91 262.4 L345.22 263.5 L346.52 264.6 L347.83 265.7 L349.13 266.7 L350.43 267.8 L351.74 268.8 L353.04 269.8 L354.35 270.9 L355.65 271.8 L356.96 272.8 L358.26 273.8 L359.57 274.7 L360.87 275.6 L362.17 276.5 L363.48 277.3 L364.78 278.2 L366.09 279.0 L367.39 279.7 L368.70 280.5 L370.00 281.2 L371.30 282.0 L372.61 282.7 L373.91 283.4 L375.22 284.1 L376.52 284.7 L377.83 285.4 L379.13 286.0 L380.43 286.6 L381.74 287.2 L383.04 287.8 L384.35 288.4 L385.65 288.9 L386.96 289.5 L388.26 290.0 L389.57 290.5 L390.87 291.0 L392.17 291.4 L393.48 291.9 L394.78 292.3 L396.09 292.8 L397.39 293.2 L398.70 293.6 L400.00 294.0 L401.30 294.4 L402.61 294.8 L403.91 295.2 L405.22 295.6 L406.52 295.9 L407.83 296.2 L409.13 296.6 L410.43 296.9 L411.74 297.2 L413.04 297.4 L414.35 297.7 L415.65 297.9 L416.96 298.2 L418.26 298.5 L419.57 298.7 L420.87 298.9 L422.17 299.1 L423.48 299.3 L424.78 299.4 L426.09 299.5 L427.39 299.5 L428.70 299.6 L430.00 299.6 L431.30 299.6 L432.61 299.7 L433.91 299.7 L435.22 299.7 L436.52 299.7 L437.83 299.7 L439.13 299.7 L440.43 299.6 L441.74 299.4 L443.04 299.3 L444.35 299.1 L445.65 298.8 L446.96 298.6 L448.26 298.3 L449.57 298.0 L450.87 297.7 L452.17 297.4 L453.48 297.0 L454.78 296.7 L456.09 296.3 L457.39 295.8 L458.70 295.2 L460.00 294.6 L461.30 293.9 L462.61 293.2 L463.91 292.4 L465.22 291.6 L466.52 290.8 L467.83 289.9 L469.13 289.1 L470.43 288.1 L471.74 287.1 L473.04 286.0 L474.35 284.8 L475.65 283.4 L476.96 282.0 L478.26 280.3 L479.57 278.3 L480.87 275.7 L482.17 272.7 L483.48 269.5 L484.78 266.1 L486.09 262.6 L487.39 259.3 L488.70 255.9 L490.00 252.3 L491.30 248.6 L492.61 244.9 L493.91 241.0 L495.22 237.2 L496.52 233.3 L497.83 229.3 L499.13 225.4 L500.43 221.6 L501.74 217.7 L503.04 213.9 L504.35 210.0 L505.65 206.0 L506.96 201.8 L508.26 197.6 L509.57 193.1 L510.87 188.4 L512.17 183.4 L513.48 178.0 L514.78 172.5 L516.09 166.8 L517.39 160.9 L518.70 155.0 L520.00 148.9 L521.30 142.5 L522.61 136.0 L523.91 129.4 L525.22 122.8 L526.52 116.4 L527.83 110.1 L529.13 104.0 L530.43 97.7 L531.74 91.3 L533.04 85.2 L534.35 79.5 L535.65 74.6 L536.96 70.8 L538.26 67.1 L539.57 63.8 L540.87 61.2 L542.17 60.0 L543.48 60.4 L544.78 62.0 L546.09 64.4 L547.39 67.1 L548.70 70.0 L550.00 73.5 L551.30 77.9 L552.61 82.8 L553.91 88.0 L555.22 93.4 L556.52 98.7 L557.83 104.2 L559.13 110.1 L560.43 116.1 L561.74 122.0 L563.04 127.7 L564.35 133.6 L565.65 139.5 L566.96 145.3 L568.26 151.0 L569.57 156.4 L570.87 161.3 L572.17 165.6 L573.48 169.4 L574.78 173.0 L576.09 176.4 L577.39 179.6 L578.70 182.5 L580.00 185.2 L581.30 187.5 L582.61 189.6 L583.91 191.6 L585.22 193.6 L586.52 195.4 L587.83 197.2 L589.13 198.6 L590.43 199.7 L591.74 200.4 L593.04 200.7 L594.35 200.8 L595.65 200.9 L596.96 201.0 L598.26 201.0 L599.57 200.9 L600.87 200.6 L602.17 200.1 L603.48 199.5 L604.78 198.6 L606.09 197.7 L607.39 196.6 L608.70 195.5 L610.00 194.3 L611.30 193.1 L612.61 191.9 L613.91 190.6 L615.22 189.1 L616.52 187.5 L617.83 185.7 L619.13 183.7 L620.43 181.7 L621.74 179.6 L623.04 177.4 L624.35 175.1 L625.65 172.9 L626.96 170.7 L628.26 168.5 L629.57 166.1 L630.87 163.8 L632.17 161.3 L633.48 158.8 L634.78 156.2 L636.09 153.6 L637.39 150.8 L638.70 148.0 L640.00 145.2 L641.30 142.2 L642.61 139.1 L643.91 135.7 L645.22 132.3 L646.52 128.8 L647.83 125.2 L649.13 121.6 L650.43 118.1 L651.74 114.7" stroke="#f800f8"/>
<path d="M97.39 216.3 L98.70 215.8 L100.00 215.4 L101.30 215.0 L102.61 214.5 L103.91 214.1 L105.22 213.7 L106.52 213.2 L107.83 212.8 L109.13 212.3 L110.43 211.9 L111.74 211.5 L113.04 211.0 L114.35 210.6 L115.65 210.1 L116.96 209.7 L118.26 209.3 L119.57 208.8 L120.87 208.4 L122.17 208.0 L123.48 207.5 L124.78 207.0 L126.09 206.6 L127.39 206.1 L128.70 205.6 L130.00 205.1 L131.30 204.7 L132.61 204.2 L133.91 203.7 L135.22 203.3 L136.52 202.8 L137.83 202.4 L139.13 202.0 L140.43 201.6 L141.74 201.2 L143.04 200.8 L144.35 200.5 L145.65 200.2 L146.96 199.9 L148.26 199.7 L149.57 199.4 L150.87 199.2 L152.17 199.0 L153.48 198.8 L154.78 198.5 L156.09 198.3 L157.39 198.2 L158.70 198.0 L160.00 197.8 L161.30 197.6 L162.61 197.4 L163.91 197.2 L165.22 197.0 L166.52 196.8 L167.83 196.6 L169.13 196.4 L170.43 196.2 L171.74 196.0 L173.04 195.8 L174.35 195.5 L175.65 195.3 L176.96 195.0 L178.26 194.8 L179.57 194.5 L180.87 194.2 L182.17 194.0 L183.48 193.7 L184.78 193.4 L186.09 193.2 L187.39 192.9 L188.70 192.6 L190.00 192.3 L191.30 191.9 L192.61 191.6 L193.91 191.3 L195.22 190.9 L196.52 190.5 L197.83 190.1 L199.13 189.7 L200.43 189.2 L201.74 188.6 L203.04 188.0 L204.35 187.4 L205.65 186.8 L206.96 186.2 L208.26 185.5 L209.57 184.9 L210.87 184.3 L212.17 183.7 L213.48 183.2 L214.78 182.7 L216.09 182.3 L217.39 181.8 L218.70 181.4 L220.00 181.0 L221.30 180.6 L222.61 180.3 L223.91 179.9 L225.22 179.7 L226.52 179.4 L227.83 179.3 L229.13 179.1 L230.43 179.0 L231.74 179.0 L233.04 178.9 L234.35 178.8 L235.65 178.8 L236.96 178.7 L238.26 178.6 L239.57 178.6 L240.87 178.5 L242.17 178.3 L243.48 178.2 L244.78 178.0 L246.09 177.6 L247.39 177.2 L248.70 176.5 L250.00 175.1 L251.30 173.3 L252.61 171.5 L253.91 170.0 L255.22 169.0 L256.52 168.4 L257.83 167.9 L259.13 167.5 L260.43 167.3 L261.74 167.4 L263.04 167.9 L264.35 168.7 L265.65 169.7 L266.96 170.8 L268.26 172.4 L269.57 174.5 L270.87 176.8 L272.17 179.3 L273.48 181.6 L274.78 183.8 L276.09 185.8 L277.39 187.8 L278.70 189.8 L280.00 191.8 L281.30 193.6 L282.61 195.1 L283.91 196.2 L285.22 197.0 L286.52 197.7 L287.83 198.2 L289.13 198.4 L290.43 198.4 L291.74 198.3 L293.04 198.1 L294.35 198.0 L295.65 197.8 L296.96 197.7 L298.26 197.5 L299.57 197.4 L300.87 197.3 L302.17 197.4 L303.48 198.1 L304.78 199.4 L306.09 201.3 L307.39 203.3 L308.70 205.4 L310.00 207.2 L311.30 208.9 L312.61 210.6 L313.91 212.4 L315.22 214.2 L316.52 216.0 L317.83 217.8 L319.13 219.6 L320.43 221.3 L321.74 223.0 L323.04 224.6 L324.35 226.3 L325.65 227.9 L326.96 229.6 L328.26 231.2 L329.57 232.8 L330.87 234.4 L332.17 235.9 L333.48 237.4 L334.78 238.9 L336.09 240.4 L337.39 241.8 L338.70 243.1 L340.00 244.4 L341.30 245.7 L342.61 246.9 L343.91 248.1 L345.22 249.3 L346.52 250.5 L347.83 251.7 L349.13 252.8 L350.43 253.9 L351.74 255.0 L353.04 256.1 L354.35 257.2 L355.65 258.2 L356.96 259.3 L358.26 260.3 L359.57 261.2 L360.87 262.2 L362.17 263.2 L363.48 264.1 L364.78 265.0 L366.09 265.9 L367.39 266.7 L368.70 267.6 L370.00 268.4 L371.30 269.2 L372.61 270.0 L373.91 270.8 L375.22 271.6 L376.52 272.4 L377.83 273.1 L379.13 273.9 L380.43 274.6 L381.74 275.3 L383.04 275.9 L384.35 276.6 L385.65 277.2 L386.96 277.8 L388.26 278.4 L389.57 278.9 L390.87 279.5 L392.17 280.0 L393.48 280.5 L394.78 281.0 L396.09 281.4 L397.39 281.9 L398.70 282.4 L400.00 282.8 L401.30 283.3 L402.61 283.7 L403.91 284.1 L405.22 284.5 L406.52 284.8 L407.83 285.2 L409.13 285.5 L410.43 285.8 L411.74 286.0 L413.04 286.3 L414.35 286.5 L415.65 286.7 L416.96 286.9 L418.26 287.1 L419.57 287.3 L420.87 287.4 L422.17 287.6 L423.48 287.8 L424.78 287.9 L426.09 288.0 L427.39 288.1 L428.70 288.2 L430.00 288.3 L431.30 288.3 L432.61 288.3 L433.91 288.3 L435.22 288.2 L436.52 288.1 L437.83 287.9 L439.13 287.8 L440.43 287.6 L441.74 287.4 L443.04 287.2 L444.35 286.9 L445.65 286.6 L446.96 286.3 L448.26 286.0 L449.57 285.7 L450.87 285.4 L452.17 285.0 L453.48 284.7 L454.78 284.3 L456.09 283.9 L457.39 283.4 L458.70 282.9 L460.00 282.3 L461.30 281.6 L462.61 280.9 L463.91 280.1 L465.22 279.3 L466.52 278.3 L467.83 277.3 L469.13 276.3 L470.43 275.2 L471.74 274.0 L473.04 272.7 L474.35 271.3 L475.65 269.5 L476.96 267.4 L478.26 265.0 L479.57 262.4 L480.87 259.7 L482.17 256.9 L483.48 254.2 L484.78 251.2 L486.09 248.1 L487.39 244.8 L488.70 241.4 L490.00 237.9 L491.30 234.3 L492.61 230.7 L493.91 227.0 L495.22 223.3 L496.52 219.6 L497.83 215.8 L499.13 212.0 L500.43 208.0 L501.74 203.9 L503.04 199.7 L504.35 195.3 L505.65 190.6 L506.96 185.7 L508.26 180.4 L509.57 174.8 L510.87 169.0 L512.17 163.1 L513.48 157.0 L514.78 150.9 L516.09 144.7 L517.39 138.3 L518.70 131.7 L520.00 125.1 L521.30 118.3 L522.61 111.5 L523.91 104.6 L525.22 97.7 L526.52 90.6 L527.83 83.2 L529.13 75.4 L530.43 67.4 L531.74 59.6 L533.04 52.2 L534.35 45.3 L535.65 39.2 L536.96 33.4 L538.26 27.8 L539.57 22.9 L540.87 19.4 L542.17 17.2 L543.48 15.4 L544.78 14.2 L546.09 13.8 L547.39 14.7 L548.70 16.7 L550.00 19.1 L551.30 22.0 L552.61 26.1 L553.91 31.1 L555.22 36.9 L556.52 43.1 L557.83 49.3 L559.13 55.5 L560.43 62.2 L561.74 69.3 L563.04 76.8 L564.35 84.2 L565.65 91.4 L566.96 98.1 L568.26 104.7 L569.57 111.2 L570.87 117.5 L572.17 123.5 L573.48 129.4 L574.78 135.3 L576.09 141.1 L577.39 146.6 L578.70 151.5 L580.00 155.8 L581.30 159.3 L582.61 162.7 L583.91 165.8 L585.22 168.7 L586.52 171.3 L587.83 173.6 L589.13 175.4 L590.43 176.8 L591.74 177.9 L593.04 179.0 L594.35 179.9 L595.65 180.7 L596.96 181.3 L598.26 181.8 L599.57 181.9 L600.87 181.8 L602.17 181.5 L603.48 181.1 L604.78 180.5 L606.09 179.9 L607.39 179.1 L608.70 178.3 L610.00 177.4 L611.30 176.5 L612.61 175.7 L613.91 174.7 L615.22 173.6 L616.52 172.4 L617.83 171.0 L619.13 169.5 L620.43 167.9 L621.74 166.3 L623.04 164.6 L624.35 162.8 L625.65 161.0 L626.96 159.2 L628.26 157.3 L629.57 155.3 L630.87 153.2 L632.17 151.1 L633.48 148.8 L634.78 146.5 L636.09 144.0 L637.39 141.4 L638.70 138.7 L640.00 135.9 L641.30 133.0 L642.61 129.7 L643.91 126.1 L645.22 122.3 L646.52 118.3 L647.83 114.2 L649.13 110.2 L650.43 106.3 L651.74 102.5" stroke="#7f7f14"/>
</g></g>
<path d="M240.7 521.6 V533.9 M482.9 521.6 V533.9 M725.1 521.6 V533.9 M119.6 521.6 V528.4 M361.8 521.6 V528.4 M604.0 521.6 V528.4 M113.2 415.4 H100.4 M113.2 263.2 H100.4 M113.2 111.1 H100.4 M113.2 491.5 H105.0 M113.2 339.3 H105.0 M113.2 187.2 H105.0 M113.2 35.0 H105.0" stroke="#000" stroke-width="4.0" fill="none"/>
<g opacity="0.999" font-family="Liberation Sans, Arial, sans-serif" font-weight="bold" fill="#000">
<text id="yl1" transform="translate(38.3 422.5) scale(0.93 1)" font-size="30" letter-spacing="1.2">0.01</text>
<text id="yl2" transform="translate(38.3 270.4) scale(0.93 1)" font-size="30" letter-spacing="1.2">0.02</text>
<text id="yl3" transform="translate(38.3 119.6) scale(0.93 1)" font-size="30" letter-spacing="1.2">0.03</text>
<text id="xl00" transform="translate(218.9 559.3) scale(0.945 1)" font-size="29.5" letter-spacing="0.4">0.0</text>
<text id="xl05" transform="translate(461.9 559.3) scale(0.945 1)" font-size="29.5" letter-spacing="0.4">0.5</text>
<text id="xl10" transform="translate(705.0 559.3) scale(0.945 1)" font-size="29.5" letter-spacing="0.4">1.0</text>
<text id="xt" x="234.0" y="594.4" font-size="35" letter-spacing="1.15">Potential/V <tspan dx="2.4">vs Ag/AgCl</tspan></text>
<text id="yt" transform="translate(30.4 305) rotate(-90) scale(0.95 1)" font-size="39" x="-0.75 10.15 20.42 59.46">I/mA</text>
</g>
</svg>
</body></html>
